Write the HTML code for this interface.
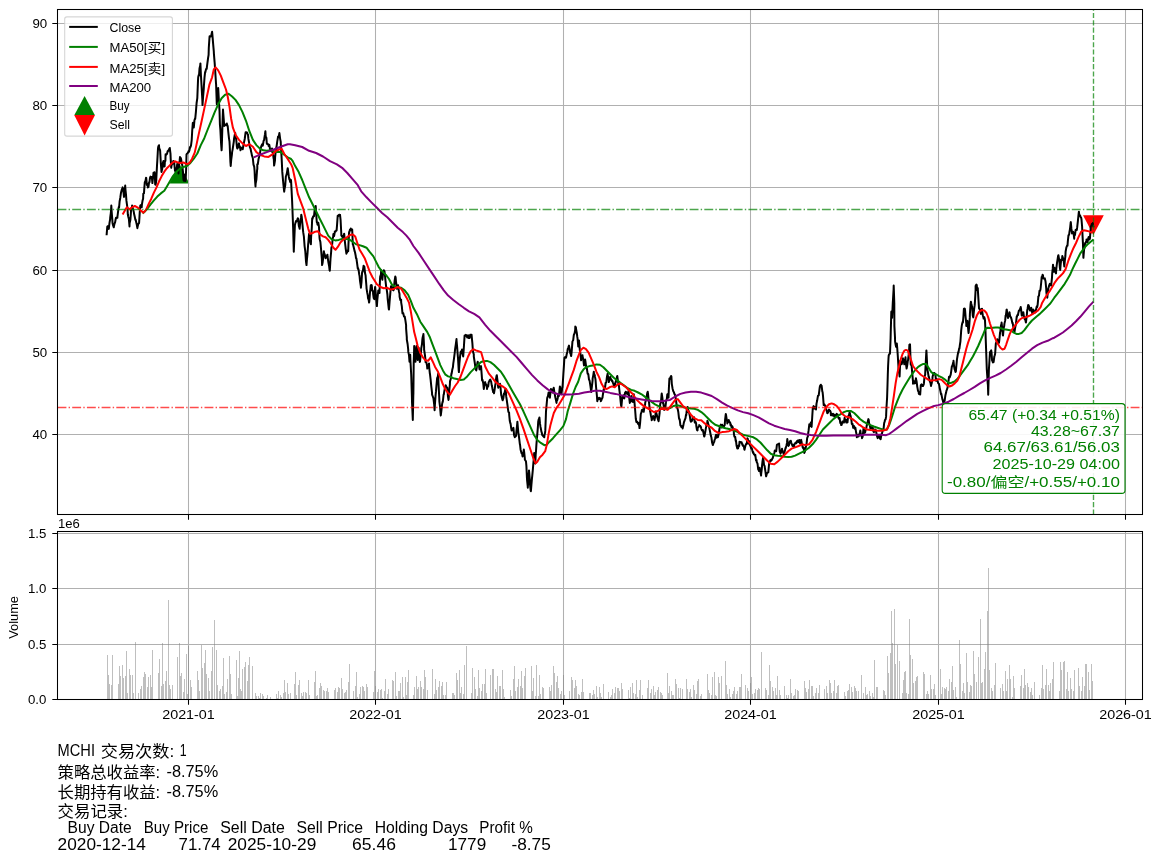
<!DOCTYPE html>
<html lang="zh"><head><meta charset="utf-8"><title>MCHI</title>
<style>html,body{margin:0;padding:0;background:#fff}body{width:1162px;height:863px;overflow:hidden}svg{will-change:transform}svg text{font-family:"Liberation Sans","Noto Sans CJK SC",sans-serif}</style></head>
<body>
<svg width="1162" height="863" viewBox="0 0 1162 863" style="display:block">
<rect width="1162" height="863" fill="#fff"/>
<g id="main">
<path d="M179.4,163.6 L169.5,183.4 L189.3,183.4 Z" fill="#008000"/>
<path d="M1093.4,235.1 L1083.0,215.3 L1103.8,215.3 Z" fill="#ff0000"/>
<path d="M188.50,9.5 V514.5 M375.50,9.5 V514.5 M563.50,9.5 V514.5 M750.50,9.5 V514.5 M938.50,9.5 V514.5 M1125.50,9.5 V514.5 M57.5,434.50 H1142.5 M57.5,352.50 H1142.5 M57.5,270.50 H1142.5 M57.5,187.50 H1142.5 M57.5,105.50 H1142.5 M57.5,23.50 H1142.5" stroke="#b0b0b0" stroke-width="1.05" fill="none"/>
<path d="M106.6,235.3 L106.6,235.1 L107.3,226.5 L107.3,228.2 L108.0,226.1 L108.7,228.2 L108.8,229.0 L109.5,222.9 L110.1,219.5 L110.2,217.7 L110.9,212.5 L111.3,205.6 L111.6,210.8 L112.4,220.8 L112.5,223.0 L113.1,225.4 L113.8,227.3 L113.9,226.5 L114.5,223.9 L115.2,221.9 L115.6,219.5 L116.0,217.8 L116.7,217.9 L117.4,217.8 L117.4,217.0 L118.1,211.4 L118.8,206.9 L119.1,207.3 L119.6,201.5 L120.3,197.7 L120.9,193.4 L121.0,192.7 L121.7,189.9 L122.4,188.0 L122.6,187.4 L123.2,189.4 L123.9,196.1 L124.0,196.9 L124.6,191.5 L125.2,185.6 L125.3,188.2 L126.0,194.7 L126.4,200.4 L126.8,203.3 L127.5,208.3 L127.8,214.3 L128.2,216.4 L128.9,219.1 L129.5,226.5 L129.6,223.4 L130.4,219.8 L130.9,212.6 L131.1,208.6 L131.8,208.7 L132.1,205.6 L132.5,207.6 L133.2,209.6 L133.9,212.6 L134.0,213.5 L134.7,216.5 L135.4,220.1 L135.6,219.5 L136.1,221.7 L136.8,224.8 L137.4,228.2 L137.6,226.7 L138.3,224.0 L139.0,223.2 L139.1,223.0 L139.7,212.9 L140.3,205.6 L140.4,207.3 L141.2,204.8 L141.7,207.3 L141.9,204.7 L142.6,200.4 L143.1,198.7 L143.3,193.8 L144.0,193.2 L144.3,188.2 L144.8,182.1 L145.5,180.8 L146.0,177.8 L146.2,177.9 L146.9,184.9 L147.6,183.8 L147.8,187.4 L148.4,187.1 L149.1,182.4 L149.5,182.1 L149.8,179.4 L150.0,177.9 L150.5,176.6 L151.2,177.9 L151.4,176.9 L152.0,178.8 L152.4,183.1 L152.7,180.3 L153.4,174.1 L153.5,172.7 L154.1,173.5 L154.5,172.3 L154.8,174.9 L155.2,184.5 L155.6,184.8 L156.3,180.3 L156.3,178.9 L157.0,165.6 L157.3,160.9 L157.7,153.7 L158.0,148.3 L158.4,146.3 L159.0,145.2 L159.2,148.3 L159.9,149.7 L160.1,150.4 L160.6,159.1 L160.8,162.9 L161.3,169.4 L161.5,172.0 L162.0,169.5 L162.2,169.2 L162.8,163.9 L162.9,162.9 L163.5,160.9 L163.9,161.6 L164.2,166.6 L164.6,166.4 L164.9,161.5 L165.4,160.9 L165.6,154.2 L166.0,155.0 L166.4,154.4 L167.0,153.9 L167.1,153.4 L167.7,151.1 L167.8,151.6 L168.5,150.3 L168.8,150.4 L169.2,149.1 L169.8,148.0 L170.0,149.8 L170.5,153.9 L170.7,158.9 L171.2,167.8 L171.4,166.3 L172.1,163.2 L172.3,162.9 L172.8,163.7 L173.3,160.9 L173.6,162.4 L174.3,162.2 L174.3,163.6 L175.0,170.9 L175.7,171.6 L175.7,172.4 L176.4,168.2 L176.8,167.8 L177.2,164.0 L177.5,163.6 L177.9,167.8 L178.5,173.4 L178.6,171.1 L179.3,162.6 L179.6,160.9 L180.0,157.1 L180.3,157.7 L180.8,158.1 L181.3,160.2 L181.5,162.8 L182.2,164.6 L182.3,165.7 L182.9,171.1 L183.4,178.9 L183.6,180.5 L184.1,180.7 L184.4,178.6 L184.8,174.8 L185.1,178.5 L185.5,181.0 L185.8,177.0 L186.2,167.8 L186.5,154.6 L186.5,154.3 L187.2,153.5 L187.6,153.2 L188.0,152.7 L188.7,151.0 L188.9,151.8 L189.4,150.5 L190.0,147.0 L190.1,147.8 L190.8,146.1 L191.0,145.6 L191.6,140.8 L191.7,140.0 L192.2,131.0 L192.3,129.5 L192.8,123.0 L193.0,122.8 L193.7,126.0 L193.8,127.5 L194.4,121.0 L194.4,120.3 L195.2,118.2 L195.2,119.0 L195.9,111.8 L196.6,103.0 L197.3,98.2 L197.3,98.3 L198.0,80.6 L198.2,77.3 L198.8,74.8 L199.0,75.6 L199.5,68.5 L200.2,65.5 L200.4,63.4 L200.9,74.8 L201.6,86.6 L202.4,101.3 L202.5,105.1 L203.1,96.6 L203.8,88.4 L203.9,86.0 L204.5,77.7 L205.1,72.1 L205.2,72.9 L206.0,69.2 L206.7,68.8 L206.9,66.9 L207.4,63.2 L208.1,57.8 L208.6,54.8 L208.8,47.8 L209.5,37.4 L209.6,36.3 L210.3,36.4 L210.7,36.5 L211.0,36.4 L211.7,33.4 L212.1,31.8 L212.4,34.9 L213.2,44.6 L213.8,51.3 L213.9,53.6 L214.6,62.1 L214.7,63.4 L215.3,72.4 L216.0,83.3 L216.1,84.3 L216.8,104.2 L216.8,103.4 L217.5,96.6 L218.2,88.6 L218.2,88.0 L218.9,101.1 L219.5,110.4 L219.6,113.5 L219.9,124.3 L220.4,130.2 L221.1,143.8 L221.6,150.3 L221.8,146.5 L222.5,123.2 L223.0,109.5 L223.2,112.6 L224.0,122.9 L224.2,126.0 L224.7,124.7 L225.4,124.7 L226.0,124.3 L226.1,125.3 L226.8,123.5 L227.6,126.3 L227.7,126.0 L228.3,132.1 L229.0,138.3 L229.5,141.6 L229.7,145.2 L230.4,161.9 L230.7,166.0 L231.2,159.8 L231.9,154.6 L232.1,152.1 L232.6,149.6 L233.3,144.8 L233.8,141.6 L234.0,139.0 L234.8,134.8 L235.2,132.9 L235.5,136.4 L236.2,139.3 L236.9,146.7 L237.3,148.6 L237.6,148.2 L238.4,144.9 L239.0,143.4 L239.1,147.0 L239.8,146.2 L240.5,150.3 L240.7,149.5 L241.2,147.8 L242.0,147.8 L242.5,148.6 L242.7,149.2 L243.4,145.8 L244.1,141.6 L244.2,141.6 L244.8,138.5 L245.6,132.3 L246.0,132.9 L246.3,132.3 L247.0,132.4 L247.7,134.1 L248.0,134.7 L248.4,138.9 L249.2,143.1 L249.4,145.1 L249.9,147.4 L250.6,148.8 L251.2,152.1 L251.3,152.1 L252.0,155.7 L252.8,158.0 L252.9,159.0 L253.5,164.7 L254.2,166.6 L254.6,170.9 L254.9,178.4 L255.5,186.5 L255.6,183.9 L256.4,179.5 L257.1,169.7 L257.3,169.1 L257.3,164.2 L257.8,164.3 L258.5,159.3 L259.0,157.3 L259.2,156.6 L260.0,153.5 L260.7,147.9 L260.7,148.6 L261.4,145.8 L262.1,144.3 L262.5,145.1 L262.8,145.7 L263.6,140.8 L264.2,139.9 L264.3,138.5 L265.0,134.2 L265.4,131.2 L265.7,136.6 L266.4,137.7 L266.8,143.4 L267.2,144.1 L267.9,143.9 L268.5,145.1 L268.6,146.0 L269.3,144.9 L270.0,149.0 L270.3,150.3 L270.8,151.0 L271.5,151.1 L272.0,148.6 L272.2,151.9 L272.9,152.8 L273.6,158.4 L273.8,159.0 L274.1,165.6 L274.4,164.0 L275.0,160.4 L275.1,157.5 L275.8,150.4 L276.4,146.8 L276.5,147.0 L277.2,141.9 L278.0,137.1 L278.1,136.4 L278.7,137.0 L279.4,133.0 L279.5,133.8 L280.1,138.6 L280.7,141.6 L280.8,144.1 L281.6,157.6 L282.3,171.9 L282.5,174.3 L283.0,180.1 L283.7,187.4 L284.2,191.7 L284.4,189.8 L285.2,185.6 L285.9,176.0 L285.9,176.1 L286.6,174.4 L287.3,170.6 L287.7,168.2 L288.0,170.2 L288.8,176.5 L289.4,179.5 L289.5,178.7 L290.2,182.0 L290.9,179.9 L291.1,181.3 L291.6,191.0 L292.1,200.8 L292.4,208.2 L293.1,226.9 L293.1,226.9 L293.8,251.8 L293.8,251.2 L294.5,235.0 L294.9,225.1 L295.2,223.8 L296.0,220.9 L296.1,221.7 L296.7,221.2 L297.4,219.4 L297.8,218.2 L298.1,218.7 L298.8,225.7 L299.6,228.6 L299.6,228.8 L300.3,221.5 L301.0,217.7 L301.3,214.7 L301.7,216.7 L302.4,223.8 L303.0,230.4 L303.2,232.2 L303.9,236.7 L304.6,246.1 L304.8,247.7 L305.3,251.4 L306.0,261.5 L306.5,265.1 L306.8,261.0 L307.5,253.7 L308.2,243.5 L308.2,244.3 L308.9,235.6 L309.1,233.8 L309.6,238.3 L310.4,242.0 L310.9,244.3 L311.1,237.3 L311.8,227.7 L312.2,218.2 L312.5,219.0 L313.2,216.2 L313.5,216.5 L314.0,216.1 L314.7,209.3 L315.4,207.4 L315.7,206.0 L316.1,212.8 L316.8,222.3 L316.9,221.7 L317.6,224.7 L318.3,222.8 L318.7,225.1 L319.0,227.3 L319.5,237.3 L319.7,239.2 L320.4,242.1 L320.9,247.7 L321.2,250.9 L321.9,259.6 L322.1,265.1 L322.6,262.9 L323.3,256.8 L323.9,251.2 L324.0,252.6 L324.8,254.7 L325.5,257.7 L325.6,258.2 L326.2,256.6 L326.9,256.1 L327.4,254.7 L327.6,257.0 L328.4,262.3 L329.1,266.0 L329.6,270.3 L329.8,270.6 L330.5,258.9 L331.2,251.1 L331.4,247.7 L332.0,245.9 L332.7,238.5 L333.1,237.3 L333.4,234.0 L334.1,236.0 L334.8,232.1 L334.8,231.5 L335.6,231.5 L336.3,230.3 L336.6,230.4 L337.0,225.6 L337.7,215.7 L337.8,216.5 L338.4,215.8 L339.2,214.7 L339.9,214.8 L340.0,214.7 L340.6,220.2 L341.3,233.8 L341.3,235.2 L342.0,236.6 L342.8,235.9 L343.0,239.0 L343.5,235.9 L344.2,233.9 L344.2,233.8 L344.9,241.8 L345.6,247.7 L345.6,248.0 L346.4,253.7 L346.5,252.9 L347.1,252.4 L347.8,250.4 L348.2,251.2 L348.5,243.4 L349.1,232.1 L349.2,232.8 L350.0,229.5 L350.7,230.1 L350.8,228.6 L351.4,230.3 L352.1,230.3 L352.2,229.5 L352.8,244.4 L352.9,244.3 L353.6,246.7 L354.3,249.8 L354.6,251.2 L355.0,252.2 L355.7,255.8 L356.0,258.2 L356.4,258.4 L357.2,264.2 L357.8,268.6 L357.9,267.8 L358.6,269.9 L359.3,275.0 L359.5,275.5 L360.0,280.9 L360.8,286.0 L360.9,287.7 L361.5,282.0 L362.1,272.0 L362.2,272.8 L362.9,270.6 L363.6,265.7 L363.8,266.0 L364.4,266.9 L365.1,273.6 L365.6,275.5 L365.8,278.5 L366.5,287.0 L366.5,288.2 L367.2,292.5 L367.8,295.6 L368.0,298.2 L368.7,300.0 L369.1,302.6 L369.4,300.5 L370.1,290.9 L370.3,290.4 L370.8,285.2 L371.6,285.1 L371.7,285.2 L372.3,290.9 L373.0,291.0 L373.1,293.9 L373.7,298.0 L374.3,299.1 L374.4,296.0 L375.1,287.0 L375.2,287.1 L375.9,295.4 L376.6,303.2 L376.9,306.1 L377.3,300.0 L378.0,293.5 L378.3,290.4 L378.8,291.7 L379.5,293.0 L379.5,292.2 L380.0,279.0 L380.2,276.5 L380.9,274.5 L381.2,270.3 L381.6,276.2 L382.4,279.8 L382.4,279.0 L383.1,272.9 L383.8,270.3 L383.8,270.6 L384.5,271.3 L385.2,277.3 L385.2,278.2 L386.0,285.3 L386.4,288.7 L386.7,289.4 L387.4,294.5 L387.7,299.1 L388.1,302.7 L388.8,309.1 L389.0,309.5 L389.6,301.4 L390.3,293.3 L390.4,292.2 L391.0,286.2 L391.6,287.0 L391.7,286.2 L392.4,288.8 L393.2,290.2 L393.4,290.4 L393.9,289.3 L394.3,284.2 L394.6,281.0 L395.3,276.5 L395.6,277.3 L396.0,281.8 L396.8,286.7 L396.9,288.7 L397.5,287.4 L398.1,285.2 L398.2,286.8 L398.9,291.2 L399.5,293.9 L399.6,296.7 L400.4,300.2 L401.1,299.7 L401.2,302.6 L401.8,306.1 L402.5,313.3 L402.9,313.0 L403.2,313.0 L404.0,316.4 L404.7,316.5 L404.7,316.4 L405.4,320.4 L406.1,325.2 L406.1,328.3 L406.8,337.3 L406.8,339.5 L407.6,344.0 L408.2,349.5 L408.3,351.9 L409.0,355.1 L409.5,361.7 L409.7,358.9 L410.2,354.7 L410.4,360.3 L411.2,374.7 L411.3,377.3 L411.9,396.7 L412.0,401.6 L412.6,415.3 L412.8,419.9 L413.3,395.9 L413.4,392.9 L413.7,363.4 L414.0,354.4 L414.2,346.0 L414.8,354.1 L415.5,361.7 L415.5,360.9 L416.2,349.8 L416.5,346.0 L416.9,350.7 L417.6,358.8 L417.7,359.9 L418.4,352.9 L418.6,347.8 L419.1,355.0 L419.8,361.9 L420.0,361.7 L420.5,356.7 L421.2,349.5 L421.2,348.7 L422.0,344.1 L422.4,339.1 L422.7,337.2 L423.4,334.4 L423.4,333.9 L424.1,346.7 L424.1,349.5 L424.8,354.2 L425.5,359.9 L425.6,362.1 L426.3,362.2 L427.0,365.2 L427.3,368.6 L427.7,367.0 L428.4,367.4 L429.0,363.4 L429.2,367.3 L429.9,373.8 L429.9,373.4 L430.6,379.4 L431.1,384.3 L431.3,386.4 L432.0,392.4 L432.1,394.7 L432.8,396.5 L433.4,398.2 L433.5,399.0 L434.2,404.6 L434.6,410.3 L434.9,404.7 L435.6,395.2 L436.0,391.2 L436.4,386.0 L437.1,378.4 L437.4,377.3 L437.8,376.8 L438.2,373.8 L438.5,383.4 L439.2,396.8 L439.4,401.6 L440.0,406.3 L440.7,414.8 L440.8,415.5 L441.4,410.6 L442.1,404.1 L442.6,401.6 L442.8,402.0 L443.6,394.5 L443.8,394.7 L444.3,391.1 L445.0,387.6 L445.5,386.0 L445.7,385.2 L446.4,386.6 L447.2,388.4 L447.3,387.7 L447.9,396.0 L448.5,399.9 L448.6,399.3 L449.3,390.4 L449.9,384.3 L450.0,381.4 L450.8,378.8 L451.5,373.2 L451.6,373.8 L452.2,370.1 L452.9,367.3 L453.3,363.4 L453.6,361.4 L454.4,355.4 L454.7,353.0 L455.1,349.1 L455.8,344.3 L456.5,339.1 L456.5,340.0 L457.2,347.8 L457.7,354.7 L458.0,358.0 L458.7,370.3 L458.9,372.1 L459.4,363.4 L460.1,356.1 L460.3,354.7 L460.8,351.4 L461.6,353.1 L462.0,349.5 L462.3,351.8 L463.0,355.8 L463.2,356.5 L463.7,349.8 L464.4,338.8 L464.6,335.6 L465.2,336.0 L465.9,334.8 L466.4,335.6 L466.6,336.2 L467.3,337.4 L468.0,335.3 L468.1,337.3 L468.8,338.1 L469.5,338.1 L469.8,337.3 L470.2,334.7 L470.9,335.1 L471.6,334.7 L471.6,335.1 L472.4,343.5 L472.8,349.5 L473.1,352.0 L473.8,354.4 L473.8,356.5 L474.5,361.0 L475.1,365.1 L475.2,366.3 L476.0,370.0 L476.3,370.4 L476.7,367.9 L477.4,363.0 L477.7,361.7 L478.1,364.5 L478.8,363.6 L479.4,368.6 L479.6,369.4 L480.3,367.3 L481.0,366.1 L481.1,366.9 L481.7,374.6 L482.1,380.4 L482.4,379.6 L483.2,382.9 L483.8,389.0 L483.9,388.3 L484.6,384.1 L485.2,382.1 L485.3,383.6 L486.0,384.2 L486.8,386.5 L487.0,389.0 L487.5,385.6 L488.2,386.4 L488.7,382.1 L488.9,381.9 L489.6,380.3 L490.4,379.6 L490.4,380.4 L491.1,381.4 L491.8,385.6 L492.2,387.3 L492.5,389.0 L493.2,392.2 L493.9,392.5 L494.0,393.3 L494.7,389.0 L495.4,384.1 L495.6,383.8 L496.1,378.3 L496.5,376.0 L496.8,375.2 L497.6,381.4 L498.2,387.3 L498.3,387.8 L499.0,385.3 L499.7,384.9 L500.0,383.8 L500.4,385.9 L501.2,395.1 L501.2,394.3 L501.9,397.7 L502.6,400.3 L502.6,400.3 L503.3,398.3 L504.0,393.5 L504.3,394.3 L504.8,391.8 L505.5,388.7 L505.7,389.0 L506.2,396.4 L506.9,400.8 L506.9,401.2 L507.6,405.9 L507.8,407.8 L508.4,411.8 L509.1,412.7 L509.2,414.8 L509.8,421.1 L510.4,423.4 L510.5,423.1 L511.2,428.1 L511.6,430.4 L512.0,428.7 L512.7,430.2 L513.0,428.7 L513.4,427.9 L514.1,435.2 L514.8,437.3 L514.8,436.1 L515.6,436.4 L516.1,435.6 L516.3,432.4 L517.0,426.1 L517.4,421.7 L517.7,425.6 L518.4,433.4 L518.6,433.9 L519.2,438.7 L519.9,444.5 L520.0,444.3 L520.6,449.7 L521.3,452.2 L521.4,453.0 L522.0,453.3 L522.6,456.5 L522.8,453.6 L523.5,452.2 L523.8,449.5 L524.2,452.4 L524.8,458.2 L524.9,459.9 L525.6,460.6 L526.0,461.7 L526.4,465.9 L526.9,477.3 L527.1,480.4 L527.8,486.9 L527.8,487.7 L528.5,476.6 L529.0,470.4 L529.2,472.3 L530.0,482.0 L530.0,484.3 L530.7,490.6 L530.9,491.2 L531.4,484.8 L532.1,476.8 L532.1,477.3 L532.8,470.2 L533.5,461.7 L533.6,461.1 L534.2,453.0 L534.3,453.8 L535.0,460.1 L535.3,463.4 L535.7,454.3 L536.0,451.2 L536.4,444.9 L537.0,437.3 L537.2,435.4 L537.9,426.7 L538.2,421.7 L538.6,419.6 L539.3,418.2 L539.4,417.4 L540.0,423.7 L540.5,426.9 L540.8,428.3 L541.5,432.1 L541.7,432.1 L542.2,435.0 L542.9,435.6 L542.9,435.9 L543.6,436.6 L544.3,437.3 L544.4,435.5 L545.1,432.5 L545.3,430.4 L545.8,417.4 L546.0,411.3 L546.5,405.9 L547.2,398.0 L547.4,397.4 L548.0,396.0 L548.6,392.5 L548.7,396.3 L549.4,396.4 L549.9,397.7 L550.1,395.6 L550.8,390.1 L550.9,389.0 L551.6,389.6 L552.3,392.0 L552.6,392.5 L553.0,390.3 L553.7,387.7 L553.8,388.2 L554.4,392.3 L555.1,396.0 L555.2,396.8 L555.9,399.9 L556.5,402.9 L556.6,401.3 L557.3,400.1 L557.8,397.7 L558.0,395.6 L558.8,396.2 L559.1,394.3 L559.5,390.0 L559.9,386.4 L560.2,388.0 L560.9,393.1 L561.3,394.3 L561.6,393.2 L562.4,386.5 L562.5,387.3 L563.1,378.2 L563.4,373.4 L563.8,367.6 L564.3,359.5 L564.5,357.7 L565.2,357.0 L566.0,357.7 L566.0,357.8 L566.7,354.3 L567.4,351.4 L567.7,349.1 L568.1,348.1 L568.8,346.1 L569.0,345.6 L569.6,348.9 L570.3,353.4 L570.4,352.6 L571.0,355.8 L571.2,356.0 L571.7,351.1 L572.4,342.1 L572.4,341.6 L573.2,340.1 L573.8,335.2 L573.9,334.7 L574.6,333.3 L575.2,330.0 L575.3,326.6 L575.9,327.4 L576.0,328.6 L576.8,333.0 L577.3,336.9 L577.5,338.0 L578.2,345.6 L578.2,346.4 L578.9,341.7 L579.0,340.4 L579.6,347.4 L579.9,350.8 L580.4,353.3 L581.1,360.3 L581.1,359.5 L581.8,358.4 L582.5,355.2 L582.5,356.1 L583.2,359.1 L583.9,364.7 L584.0,365.5 L584.7,362.2 L585.1,359.5 L585.4,361.1 L586.1,366.5 L586.3,368.2 L586.8,367.8 L587.6,373.7 L587.7,373.4 L588.3,374.1 L589.0,379.7 L589.5,380.4 L589.7,381.4 L590.4,385.8 L591.2,391.9 L591.2,391.7 L591.9,386.5 L592.6,380.4 L592.6,378.7 L593.3,375.1 L593.8,371.7 L594.0,373.5 L594.8,375.4 L595.0,376.9 L595.5,379.5 L596.1,387.3 L596.2,388.5 L596.9,395.7 L597.3,401.2 L597.6,399.7 L598.4,399.1 L599.0,397.7 L599.1,397.8 L599.8,399.0 L600.5,398.4 L600.8,401.2 L601.2,400.7 L602.0,398.5 L602.5,397.7 L602.7,395.9 L603.4,391.5 L603.7,389.0 L604.1,389.8 L604.8,386.5 L605.1,387.3 L605.6,382.8 L606.3,382.5 L606.5,380.4 L607.0,376.4 L607.7,373.4 L607.7,375.3 L608.4,377.2 L608.9,382.1 L609.2,380.5 L609.9,379.7 L610.3,376.9 L610.6,378.7 L611.3,379.5 L612.0,381.0 L612.1,380.4 L612.8,382.3 L613.5,384.0 L613.8,385.6 L614.2,384.5 L614.9,385.1 L615.5,382.1 L615.6,382.7 L616.4,379.2 L617.1,377.1 L617.3,376.0 L617.8,380.2 L618.5,384.6 L618.7,383.8 L619.2,388.6 L619.9,394.3 L620.0,394.9 L620.7,402.2 L621.1,405.6 L621.4,406.4 L622.1,398.8 L622.5,396.0 L622.8,398.1 L623.6,395.2 L624.2,397.7 L624.3,398.5 L625.0,392.8 L625.6,392.5 L625.7,391.7 L626.4,392.5 L627.2,393.9 L627.4,394.3 L627.9,393.0 L628.6,390.8 L628.6,391.7 L629.3,398.7 L629.8,402.9 L630.0,401.0 L630.8,401.7 L631.2,396.0 L631.5,397.7 L632.2,400.8 L632.6,401.2 L632.9,402.0 L633.6,396.4 L633.8,394.3 L634.4,401.7 L635.0,408.2 L635.1,409.5 L635.8,418.8 L636.4,422.1 L636.5,421.3 L637.2,421.6 L638.0,423.8 L638.1,423.8 L638.7,423.0 L639.4,426.7 L639.5,428.1 L640.1,423.2 L640.7,415.1 L640.8,414.0 L641.6,411.8 L641.9,409.9 L642.3,411.2 L643.0,409.3 L643.7,411.6 L643.7,411.8 L644.4,407.0 L645.1,404.7 L645.2,402.7 L645.9,400.3 L646.5,397.7 L646.6,397.0 L647.3,392.9 L647.7,391.7 L648.0,393.6 L648.8,401.5 L648.9,401.2 L649.5,407.2 L650.2,411.8 L650.3,411.6 L650.9,415.5 L651.6,418.6 L651.7,420.3 L652.4,417.8 L653.1,416.0 L653.4,416.8 L653.8,418.0 L654.5,420.3 L654.6,419.5 L655.2,416.8 L655.8,411.6 L656.0,412.0 L656.7,414.2 L657.2,416.8 L657.4,417.6 L658.1,419.8 L658.6,421.2 L658.8,419.7 L659.6,413.2 L659.8,408.2 L660.3,403.7 L661.0,401.8 L661.6,394.3 L661.7,393.5 L662.4,397.9 L662.8,402.9 L663.2,402.7 L663.9,407.0 L664.2,409.9 L664.6,407.9 L665.3,408.2 L665.9,402.9 L666.0,401.2 L666.8,399.2 L667.3,394.3 L667.5,394.2 L668.2,397.0 L668.5,397.7 L668.9,387.7 L669.4,378.6 L669.6,379.4 L670.4,377.5 L671.1,376.0 L671.4,376.5 L671.8,383.8 L672.5,388.1 L672.6,388.7 L673.2,391.1 L674.0,392.5 L674.3,393.9 L674.7,394.1 L675.4,396.1 L676.1,400.8 L676.1,400.8 L676.8,406.9 L677.6,408.8 L677.8,409.5 L678.3,412.0 L679.0,418.1 L679.6,419.9 L679.7,419.3 L680.4,425.4 L681.2,426.3 L681.3,426.9 L681.9,426.1 L682.5,427.7 L682.6,428.4 L683.3,425.6 L684.0,421.9 L684.2,421.7 L684.8,419.9 L685.5,418.1 L686.0,414.7 L686.2,415.5 L686.9,408.9 L687.4,407.8 L687.6,407.0 L688.4,412.0 L688.8,411.2 L689.1,412.5 L689.8,415.8 L690.5,420.6 L690.9,421.7 L691.2,420.3 L692.0,420.9 L692.6,418.2 L692.7,417.4 L693.4,418.3 L694.1,417.4 L694.3,419.1 L694.8,422.5 L695.6,421.8 L696.1,423.4 L696.3,426.0 L697.0,430.0 L697.5,430.4 L697.7,427.9 L698.4,427.1 L699.2,426.2 L699.2,425.1 L699.9,425.9 L700.6,426.4 L700.9,426.9 L701.3,428.8 L702.0,430.4 L702.7,430.4 L702.8,429.9 L703.5,433.0 L704.2,436.6 L704.4,436.4 L704.9,433.9 L705.6,429.8 L706.1,426.9 L706.4,424.2 L707.1,424.6 L707.4,420.8 L707.8,422.0 L708.5,425.2 L709.1,426.9 L709.2,427.6 L710.0,431.3 L710.7,435.0 L710.8,435.6 L711.4,437.3 L712.1,442.5 L712.6,444.3 L712.8,445.1 L713.6,442.8 L714.3,441.8 L714.3,440.8 L715.0,439.0 L715.7,435.9 L716.0,434.7 L716.4,437.8 L717.2,435.4 L717.8,437.3 L717.9,437.3 L718.6,434.6 L719.3,430.0 L719.5,428.6 L720.0,426.1 L720.8,424.6 L721.3,425.1 L721.5,427.5 L722.2,424.8 L722.9,426.8 L723.0,426.9 L723.6,427.0 L724.4,425.6 L724.7,425.1 L725.1,419.7 L725.8,413.9 L726.0,414.7 L726.5,418.1 L727.2,421.7 L727.3,423.4 L728.0,421.5 L728.7,420.2 L728.7,419.9 L729.4,422.2 L730.1,422.2 L730.5,425.1 L730.8,424.3 L731.6,427.5 L732.2,426.9 L732.3,426.3 L733.0,428.4 L733.7,430.2 L733.9,433.8 L734.4,436.6 L735.2,437.0 L735.7,440.8 L735.9,440.2 L736.6,445.8 L737.3,448.6 L737.4,448.6 L738.0,448.4 L738.8,445.2 L739.2,446.0 L739.5,441.7 L740.2,442.5 L740.9,442.5 L740.9,442.1 L741.6,442.3 L742.4,445.1 L742.6,444.3 L743.1,446.1 L743.8,446.3 L744.4,449.5 L744.5,449.8 L745.2,446.6 L746.0,444.0 L746.1,444.3 L746.7,444.1 L747.4,438.2 L747.8,439.0 L748.1,441.3 L748.8,443.6 L749.6,441.3 L749.6,444.3 L750.3,445.7 L751.0,447.6 L751.3,448.6 L751.7,448.0 L752.4,450.6 L753.1,452.9 L753.2,452.1 L753.9,454.3 L754.6,454.5 L754.8,455.6 L755.3,454.8 L756.0,460.3 L756.5,459.9 L756.8,462.3 L757.5,463.5 L758.2,469.4 L758.3,468.6 L758.9,471.1 L759.6,467.8 L760.0,470.3 L760.4,471.5 L761.1,475.5 L761.1,474.5 L761.8,468.8 L762.1,465.1 L762.5,461.3 L763.0,458.2 L763.2,457.6 L764.0,464.9 L764.7,466.3 L764.7,466.8 L765.4,471.4 L766.1,476.3 L766.4,475.5 L766.8,473.7 L767.6,472.7 L768.2,472.1 L768.3,472.4 L769.0,464.8 L769.4,461.6 L769.7,461.9 L770.4,460.3 L770.8,459.9 L771.2,460.7 L771.9,459.7 L772.5,458.2 L772.6,458.4 L773.3,455.9 L774.0,454.1 L774.3,452.9 L774.8,450.4 L775.5,451.3 L776.0,451.2 L776.2,451.2 L776.9,444.9 L777.4,444.3 L777.6,444.3 L778.4,444.1 L779.1,443.5 L779.1,444.3 L779.8,452.0 L780.5,452.9 L780.5,453.7 L781.2,451.8 L782.0,448.7 L782.1,449.5 L782.7,451.4 L783.4,453.0 L783.8,454.7 L784.1,453.3 L784.8,450.9 L785.6,447.7 L785.6,448.5 L786.3,446.0 L787.0,442.9 L787.3,439.0 L787.7,442.5 L788.4,445.9 L789.0,445.1 L789.2,443.9 L789.9,441.2 L790.6,441.5 L790.8,440.8 L791.3,442.8 L792.0,444.7 L792.5,446.0 L792.8,444.9 L793.5,446.0 L794.2,446.7 L794.2,444.3 L794.9,443.9 L795.6,442.5 L796.0,442.5 L796.4,443.3 L797.1,441.0 L797.7,440.8 L797.8,440.4 L798.5,442.0 L799.2,440.0 L799.5,442.5 L800.0,443.3 L800.7,440.5 L801.2,439.9 L801.4,441.6 L802.1,444.6 L802.8,447.9 L802.9,447.7 L803.6,447.5 L804.3,452.9 L804.7,452.1 L805.0,451.4 L805.7,447.7 L806.4,444.3 L806.4,445.1 L807.2,437.9 L807.9,436.4 L808.1,433.8 L808.6,430.4 L809.3,424.3 L809.4,425.1 L810.0,425.9 L810.7,423.4 L810.8,422.6 L811.5,426.6 L811.6,426.9 L812.2,417.5 L812.8,407.8 L812.9,408.0 L813.6,406.1 L814.4,408.6 L814.6,406.9 L815.1,408.2 L815.8,407.4 L816.0,409.5 L816.5,403.6 L817.2,400.3 L817.4,399.1 L818.0,395.7 L818.6,395.6 L818.7,395.4 L819.4,390.1 L819.8,386.9 L820.1,385.8 L820.8,384.7 L821.2,385.5 L821.6,385.6 L822.3,391.3 L822.6,392.1 L823.0,395.8 L823.7,405.1 L823.8,404.3 L824.4,404.3 L825.2,406.2 L825.5,406.0 L825.9,408.5 L826.6,410.5 L827.3,413.0 L827.3,413.3 L828.0,412.8 L828.8,409.8 L829.0,409.5 L829.5,410.7 L830.2,410.8 L830.7,412.1 L830.9,415.2 L831.6,413.7 L832.4,415.5 L832.5,414.7 L833.1,413.9 L833.8,415.4 L834.2,416.5 L834.5,414.8 L835.2,416.0 L835.9,415.6 L836.0,415.0 L836.7,413.9 L837.4,414.5 L837.7,414.7 L838.1,416.8 L838.8,418.6 L839.4,418.2 L839.6,418.0 L840.3,423.1 L841.0,423.7 L841.2,425.1 L841.7,424.9 L842.4,421.4 L842.9,421.7 L843.2,422.5 L843.9,422.5 L844.6,417.8 L844.6,418.2 L845.3,421.6 L846.0,419.7 L846.4,422.5 L846.8,420.3 L847.5,422.4 L848.1,416.5 L848.2,416.2 L848.9,415.5 L849.6,412.2 L849.8,413.0 L850.4,415.6 L851.1,418.1 L851.6,421.7 L851.8,424.0 L852.5,423.8 L853.2,427.7 L853.3,426.9 L854.0,426.1 L854.7,428.7 L855.1,428.6 L855.4,427.8 L856.1,432.3 L856.8,435.6 L856.8,437.2 L857.6,435.8 L858.3,434.8 L858.5,436.4 L859.0,435.5 L859.7,433.6 L860.3,430.4 L860.4,431.8 L861.2,435.8 L861.9,435.6 L862.0,438.2 L862.6,436.8 L863.3,430.6 L863.5,428.6 L864.0,427.8 L864.8,432.9 L865.2,432.1 L865.5,430.3 L866.2,428.8 L866.9,424.3 L867.0,425.1 L867.6,422.2 L868.4,419.1 L868.7,419.9 L869.1,423.1 L869.8,425.2 L870.4,428.6 L870.5,427.2 L871.2,427.2 L872.0,428.6 L872.2,426.8 L872.7,427.3 L873.4,431.4 L873.9,432.1 L874.1,430.2 L874.8,429.5 L875.6,429.7 L875.6,430.3 L876.3,432.5 L877.0,436.0 L877.4,437.3 L877.7,438.1 L878.4,435.6 L879.1,435.5 L879.2,435.2 L879.9,438.5 L880.5,439.0 L880.6,439.2 L881.3,435.4 L881.7,433.8 L882.0,433.5 L882.8,429.5 L883.5,430.3 L883.5,429.4 L884.2,422.8 L884.7,421.6 L884.9,420.2 L885.6,419.3 L886.1,416.4 L886.4,408.7 L886.9,400.8 L887.1,397.6 L887.5,385.1 L887.8,374.8 L888.1,366.0 L888.5,358.3 L888.7,355.6 L889.2,354.1 L889.9,353.9 L890.0,353.2 L890.6,338.2 L890.7,333.5 L891.3,312.2 L891.4,311.4 L892.1,317.7 L892.1,317.4 L892.8,302.6 L893.0,299.5 L893.6,289.2 L893.7,285.6 L894.3,303.3 L894.3,303.0 L894.4,326.1 L895.0,337.8 L895.1,341.7 L895.7,345.1 L896.1,346.9 L896.4,345.6 L896.8,343.4 L897.2,347.7 L897.9,357.3 L897.9,357.5 L898.6,369.5 L898.6,370.1 L899.3,373.7 L899.6,376.5 L900.0,366.7 L900.3,360.8 L900.8,363.3 L901.5,362.3 L901.7,364.3 L902.2,362.3 L902.9,358.3 L903.1,359.1 L903.6,359.9 L904.3,364.3 L904.4,363.4 L905.1,360.1 L905.5,357.3 L905.8,362.5 L906.5,367.9 L906.6,368.6 L907.2,365.6 L907.8,360.8 L908.0,360.3 L908.7,354.5 L909.0,352.1 L909.4,344.8 L910.0,344.3 L910.1,346.8 L910.7,364.3 L910.8,364.7 L911.6,365.6 L911.8,367.8 L912.3,373.7 L913.0,381.7 L913.0,383.7 L913.7,380.9 L914.4,382.4 L914.7,383.4 L915.2,383.1 L915.9,378.3 L916.0,379.1 L916.6,381.3 L917.3,387.2 L917.3,386.9 L918.0,390.8 L918.7,392.1 L918.8,393.8 L919.5,394.2 L919.9,393.8 L920.2,394.5 L920.8,385.1 L920.9,385.7 L921.6,384.3 L922.4,385.6 L922.6,386.0 L923.1,385.9 L923.8,384.2 L923.9,383.4 L924.5,376.6 L925.2,374.7 L925.2,373.6 L926.0,357.6 L926.4,350.4 L926.7,355.7 L927.4,370.3 L927.4,369.5 L928.1,373.3 L928.6,376.5 L928.8,376.4 L929.6,380.3 L929.9,381.7 L930.3,381.8 L931.0,385.9 L931.2,385.1 L931.7,383.3 L932.4,378.9 L932.6,376.5 L933.2,374.4 L933.9,373.1 L934.4,373.0 L934.6,374.3 L935.3,373.7 L936.0,380.7 L936.1,379.9 L936.8,379.1 L937.5,381.4 L937.8,381.7 L938.2,383.2 L938.9,383.8 L939.6,386.9 L939.6,387.6 L940.4,391.0 L941.1,394.6 L941.3,393.8 L941.8,396.4 L942.5,399.8 L942.5,399.0 L943.2,402.2 L943.8,403.4 L944.0,402.2 L944.7,400.5 L945.1,397.3 L945.4,395.3 L946.1,392.6 L946.5,390.4 L946.8,389.9 L947.6,387.5 L947.7,385.1 L948.3,382.9 L949.0,376.8 L949.5,376.5 L949.7,377.3 L950.4,375.3 L950.7,374.7 L951.2,371.4 L951.9,366.2 L952.1,366.0 L952.6,364.9 L953.3,361.9 L953.5,360.8 L954.0,365.8 L954.7,369.5 L954.8,369.4 L955.5,372.0 L955.9,371.2 L956.2,367.5 L956.9,360.1 L957.0,359.1 L957.6,355.5 L958.2,352.1 L958.4,352.9 L959.1,348.6 L959.4,348.7 L959.8,345.5 L960.4,341.7 L960.5,340.3 L961.2,330.4 L961.7,326.1 L962.0,324.3 L962.7,321.8 L962.9,322.6 L963.4,316.5 L963.9,308.7 L964.1,311.1 L964.8,308.6 L965.1,310.4 L965.6,317.1 L966.3,323.7 L966.3,326.1 L967.0,321.6 L967.4,320.9 L967.7,323.8 L968.4,331.6 L968.6,333.0 L969.2,326.4 L969.8,317.4 L969.9,313.7 L970.6,303.8 L970.9,301.7 L971.3,303.8 L972.0,306.5 L972.1,307.0 L972.8,315.8 L973.3,317.4 L973.5,315.3 L974.2,308.5 L974.7,305.2 L974.9,302.7 L975.6,289.9 L975.6,285.9 L976.4,284.5 L976.8,285.3 L977.1,289.9 L977.8,288.2 L977.8,289.1 L978.5,300.4 L979.0,308.2 L979.2,308.6 L980.0,310.0 L980.7,313.4 L980.8,313.9 L981.4,309.3 L982.0,308.7 L982.1,310.9 L982.8,315.2 L983.4,317.4 L983.6,318.6 L984.3,317.2 L984.8,319.1 L985.0,320.6 L985.5,331.3 L985.7,338.6 L986.2,352.1 L986.4,357.9 L986.8,369.5 L987.2,375.1 L987.7,383.4 L987.9,384.8 L988.2,394.7 L988.6,380.1 L988.9,369.5 L989.3,363.2 L990.0,352.1 L990.0,352.6 L990.8,351.1 L991.2,350.4 L991.5,352.1 L992.1,360.8 L992.2,360.0 L992.9,362.5 L993.4,361.7 L993.6,362.0 L994.4,356.0 L994.7,355.6 L995.1,354.1 L995.8,344.0 L995.9,343.4 L996.5,341.8 L997.2,339.2 L997.3,340.0 L998.0,343.1 L998.7,342.2 L999.0,342.6 L999.4,339.3 L1000.1,332.2 L1000.4,331.3 L1000.8,326.3 L1001.6,323.2 L1001.6,322.6 L1002.3,329.3 L1002.8,334.8 L1003.0,335.6 L1003.7,327.9 L1004.2,326.1 L1004.4,323.9 L1005.2,320.4 L1005.6,315.6 L1005.9,315.4 L1006.6,309.7 L1006.8,309.6 L1007.3,314.8 L1008.0,318.0 L1008.0,317.4 L1008.8,315.9 L1009.4,312.2 L1009.5,312.8 L1010.2,316.4 L1010.8,317.4 L1010.9,317.1 L1011.6,319.5 L1012.4,323.4 L1012.6,322.6 L1013.1,325.7 L1013.8,329.3 L1014.3,331.3 L1014.5,331.9 L1015.2,327.6 L1015.5,326.1 L1016.0,323.4 L1016.7,316.6 L1016.7,317.4 L1017.4,315.0 L1018.1,315.0 L1018.1,313.9 L1018.8,310.9 L1019.5,310.4 L1019.6,309.9 L1020.3,308.5 L1020.7,307.0 L1021.0,308.7 L1021.7,315.2 L1021.9,315.6 L1022.4,315.0 L1023.2,312.3 L1023.3,312.2 L1023.9,316.4 L1024.6,318.0 L1024.7,319.1 L1025.3,319.8 L1025.9,322.6 L1026.0,322.0 L1026.8,315.3 L1027.2,310.4 L1027.5,309.0 L1028.2,305.0 L1028.5,305.2 L1028.9,305.9 L1029.6,309.6 L1029.9,310.4 L1030.4,310.5 L1031.1,310.4 L1031.2,307.8 L1031.8,310.8 L1032.4,313.9 L1032.5,313.2 L1033.2,309.6 L1033.8,310.4 L1034.0,312.4 L1034.7,312.6 L1035.4,312.1 L1035.5,312.2 L1036.1,309.3 L1036.8,306.2 L1037.2,307.0 L1037.6,305.1 L1038.3,297.7 L1038.3,296.6 L1039.0,295.7 L1039.5,290.8 L1039.7,291.2 L1040.4,289.8 L1040.7,287.3 L1041.2,282.5 L1041.7,276.9 L1041.9,277.7 L1042.6,274.7 L1043.0,275.5 L1043.3,278.5 L1044.0,278.2 L1044.2,278.6 L1044.8,278.4 L1045.5,281.3 L1045.6,282.1 L1046.2,288.3 L1046.4,292.5 L1046.9,295.8 L1047.3,297.7 L1047.6,294.2 L1048.4,288.0 L1048.7,287.3 L1049.1,285.7 L1049.8,283.8 L1049.9,283.8 L1050.5,285.0 L1051.1,285.6 L1051.2,285.2 L1052.0,277.6 L1052.2,273.4 L1052.7,268.9 L1053.0,264.7 L1053.4,269.9 L1053.9,271.7 L1054.1,267.5 L1054.8,268.5 L1055.0,268.2 L1055.6,272.5 L1056.0,273.4 L1056.3,268.7 L1057.0,263.0 L1057.0,263.0 L1057.7,258.7 L1058.1,256.0 L1058.4,255.2 L1059.1,259.5 L1059.2,259.1 L1059.9,267.9 L1060.2,269.9 L1060.6,265.1 L1061.2,259.5 L1061.3,260.3 L1062.0,260.0 L1062.3,256.0 L1062.8,257.6 L1063.3,259.5 L1063.5,259.2 L1064.2,265.5 L1064.3,266.5 L1064.9,259.8 L1065.4,256.0 L1065.6,251.8 L1066.4,247.3 L1066.4,247.3 L1067.1,245.6 L1067.5,245.6 L1067.8,241.7 L1068.5,235.2 L1068.5,236.0 L1069.2,234.2 L1069.5,231.7 L1070.0,229.0 L1070.7,222.3 L1070.8,222.1 L1071.4,228.7 L1072.0,233.4 L1072.1,233.2 L1072.8,232.3 L1073.0,231.7 L1073.6,233.4 L1074.2,238.7 L1074.3,234.1 L1075.0,235.0 L1075.5,230.8 L1075.7,229.8 L1076.4,229.5 L1076.8,230.0 L1077.2,227.2 L1077.9,220.8 L1078.2,217.8 L1078.6,214.2 L1078.9,211.7 L1079.3,215.2 L1080.0,215.2 L1080.0,215.5 L1080.8,217.2 L1081.2,217.8 L1081.5,219.5 L1082.1,226.5 L1082.2,228.9 L1082.9,242.7 L1082.9,242.1 L1083.4,257.8 L1083.6,255.2 L1084.1,249.1 L1084.4,248.4 L1085.1,243.1 L1085.2,243.9 L1085.8,242.6 L1086.4,240.4 L1086.5,239.6 L1087.2,241.0 L1087.6,242.1 L1088.0,239.3 L1088.7,236.9 L1088.7,237.2 L1089.4,239.5 L1089.9,238.7 L1090.1,236.1 L1090.7,228.2 L1090.8,226.6 L1091.6,225.0 L1091.8,223.9 L1092.3,224.7 L1092.8,223.0 L1093.0,225.1 L1093.5,227.4 L1093.5,227.4" fill="none" stroke="#000" stroke-width="2.0" stroke-linejoin="round" stroke-linecap="butt" />
<path d="M142.6,213.4 L145.2,211.2 L147.8,208.2 L150.4,204.7 L153.9,200.4 L157.3,196.6 L160.8,193.4 L164.3,190.8 L166.9,186.5 L169.5,182.1 L173.0,176.1 L176.5,171.7 L179.9,168.8 L183.4,167.0 L186.9,166.0 L190.4,163.0 L193.8,158.7 L197.3,153.5 L200.8,145.1 L204.3,138.2 L207.7,129.5 L211.2,120.8 L214.7,112.1 L218.2,104.3 L221.6,98.2 L225.1,94.7 L228.6,93.8 L232.1,96.5 L235.5,99.9 L239.0,105.1 L242.5,112.1 L246.0,120.8 L249.4,131.2 L252.9,139.9 L256.4,145.1 L259.9,148.6 L263.3,150.3 L266.8,150.7 L270.3,150.3 L273.8,151.2 L277.2,152.1 L280.7,152.1 L284.2,154.7 L287.7,157.3 L291.1,159.0 L292.6,160.9 L295.2,166.1 L298.7,172.1 L302.2,180.0 L305.6,188.7 L309.1,197.3 L312.6,204.3 L316.1,211.2 L319.5,218.2 L323.0,225.1 L325.6,230.4 L328.2,235.6 L331.7,239.4 L335.2,240.4 L338.7,239.9 L342.1,239.0 L345.6,238.7 L349.1,239.4 L352.6,241.7 L356.0,244.3 L359.5,245.1 L363.0,246.3 L366.5,247.7 L369.9,252.1 L373.4,256.4 L376.0,261.6 L378.6,266.8 L381.2,270.3 L383.8,272.9 L386.4,275.5 L389.0,279.0 L391.7,284.3 L396.0,287.0 L401.2,287.8 L404.7,290.4 L408.2,294.8 L410.8,300.9 L413.4,307.8 L416.8,313.9 L420.3,321.7 L423.8,326.9 L427.3,332.1 L429.9,337.3 L432.5,344.3 L435.1,351.2 L437.7,358.2 L440.3,365.1 L442.9,370.4 L445.5,374.7 L448.1,376.4 L450.7,377.0 L453.3,378.2 L456.8,379.0 L460.3,379.9 L463.8,379.4 L467.2,376.4 L470.7,372.1 L474.2,368.6 L477.7,365.1 L481.1,362.0 L483.5,361.2 L487.0,360.9 L490.4,362.1 L493.9,364.7 L497.4,368.2 L500.9,371.7 L504.3,376.9 L506.1,380.0 L509.5,386.1 L513.0,392.2 L516.5,398.2 L520.0,404.3 L523.4,411.3 L526.9,419.1 L530.4,426.9 L533.9,434.7 L537.3,439.9 L540.8,442.9 L544.3,445.2 L546.9,444.6 L549.5,441.7 L553.0,438.2 L556.5,434.2 L559.9,430.4 L563.4,426.0 L566.0,419.1 L567.7,411.3 L570.4,402.6 L573.0,393.9 L575.6,387.0 L578.2,381.7 L580.8,373.4 L583.4,369.6 L586.0,367.3 L589.5,366.1 L592.9,365.6 L596.4,364.4 L599.9,364.7 L603.4,367.3 L606.8,370.8 L610.3,374.3 L613.8,377.7 L617.3,380.4 L620.7,383.0 L624.2,385.6 L627.7,388.2 L631.2,389.9 L634.6,390.8 L638.1,392.5 L641.6,394.3 L645.1,396.9 L648.5,399.5 L652.0,402.1 L655.5,404.7 L659.0,406.4 L662.5,408.2 L665.9,409.0 L669.4,408.2 L670.0,408.1 L673.5,406.0 L677.0,405.2 L680.4,406.0 L683.9,407.4 L687.4,408.1 L690.9,408.6 L694.3,408.8 L697.8,409.9 L701.3,412.1 L704.8,415.1 L708.2,418.5 L711.7,422.0 L715.2,424.8 L718.7,426.0 L722.1,427.2 L725.6,428.3 L729.1,429.0 L732.6,430.0 L736.0,431.2 L739.5,433.0 L743.0,434.7 L746.5,435.6 L749.9,436.4 L753.4,437.3 L756.9,439.4 L760.4,442.5 L763.8,446.3 L767.3,450.3 L770.8,453.8 L774.3,455.2 L777.7,455.7 L781.2,456.1 L784.7,456.8 L788.2,457.1 L791.6,456.8 L795.1,455.6 L798.6,453.8 L802.1,452.1 L805.5,450.3 L809.0,447.7 L812.5,444.3 L816.0,439.9 L819.4,434.7 L822.9,429.5 L826.4,426.0 L829.9,422.5 L833.3,419.1 L836.8,416.5 L840.3,414.4 L843.8,412.1 L847.2,410.9 L850.7,410.9 L854.2,413.0 L857.7,416.5 L860.0,419.0 L863.5,421.6 L867.0,423.7 L870.4,425.1 L873.9,426.5 L877.4,427.7 L880.9,428.9 L884.3,430.0 L886.9,429.5 L889.5,424.2 L892.1,416.4 L894.8,407.7 L897.4,400.8 L900.0,394.7 L902.6,389.5 L905.2,385.1 L907.8,380.8 L910.4,376.5 L913.0,373.0 L915.6,369.5 L918.2,366.9 L920.8,365.2 L923.4,363.9 L926.0,363.9 L928.6,367.8 L931.2,372.1 L933.8,373.8 L936.5,374.7 L939.1,376.1 L941.7,377.3 L944.3,379.1 L946.9,381.3 L949.5,383.4 L952.1,382.5 L954.7,381.3 L957.3,379.1 L959.9,375.6 L962.5,372.1 L965.1,368.6 L967.7,365.2 L970.3,360.8 L972.9,356.5 L975.6,351.3 L978.2,346.0 L980.8,340.0 L983.4,333.9 L985.5,328.7 L987.7,327.8 L990.3,328.1 L992.9,327.8 L995.5,327.5 L998.1,327.5 L1000.7,328.1 L1003.4,329.2 L1006.0,329.5 L1008.6,329.9 L1011.2,330.4 L1013.8,332.7 L1016.4,333.9 L1019.0,333.9 L1021.6,333.0 L1024.2,330.4 L1026.8,326.9 L1029.4,323.5 L1032.0,320.5 L1034.6,318.2 L1037.2,316.0 L1039.8,313.9 L1042.5,311.3 L1045.1,308.7 L1047.7,306.1 L1050.3,303.5 L1054.3,297.7 L1056.9,294.3 L1059.5,290.8 L1062.1,287.3 L1064.7,283.8 L1067.3,279.5 L1069.9,275.1 L1072.5,269.1 L1075.1,263.8 L1077.7,258.6 L1080.3,253.4 L1082.9,249.9 L1085.5,246.5 L1088.1,243.9 L1090.7,241.8 L1093.5,239.5" fill="none" stroke="#008000" stroke-width="2.0" stroke-linejoin="round" stroke-linecap="butt" />
<path d="M122.6,214.6 L125.2,209.9 L126.9,207.3 L129.5,209.4 L132.1,207.3 L134.8,206.0 L137.4,207.3 L140.0,209.9 L143.4,212.6 L146.0,209.9 L148.7,203.9 L151.3,198.7 L153.9,192.6 L156.5,187.4 L159.1,181.3 L161.7,176.1 L164.3,171.7 L166.9,168.2 L169.5,165.6 L172.1,163.0 L174.7,161.3 L177.3,162.2 L179.9,163.0 L183.4,162.5 L186.9,164.2 L189.5,163.0 L192.1,158.7 L194.7,152.6 L196.4,145.1 L199.0,132.9 L201.7,120.8 L204.3,108.6 L206.9,96.5 L209.5,84.3 L212.1,77.3 L213.8,69.5 L215.6,67.3 L218.2,70.4 L220.8,75.6 L223.4,82.6 L226.0,89.5 L227.7,96.5 L229.5,106.9 L231.2,119.0 L232.9,127.7 L235.5,134.7 L239.0,139.9 L242.5,143.4 L246.0,146.0 L249.4,144.2 L252.9,146.8 L256.4,152.1 L259.9,154.7 L264.2,156.4 L268.5,156.9 L272.0,154.7 L275.5,151.2 L279.0,149.5 L281.6,148.6 L284.2,153.8 L287.7,159.0 L291.1,164.2 L292.6,167.8 L295.2,180.0 L297.8,193.9 L300.4,200.8 L303.0,207.8 L305.6,218.2 L308.2,228.6 L310.0,233.8 L312.6,233.0 L315.2,231.7 L317.8,231.2 L320.4,234.7 L323.0,236.4 L325.6,237.3 L328.2,239.9 L330.8,243.4 L333.4,247.7 L335.5,249.8 L337.8,246.9 L340.4,242.5 L343.0,239.9 L345.6,238.2 L348.2,236.4 L350.8,234.7 L352.9,234.4 L355.2,236.4 L356.9,241.7 L359.5,249.5 L362.1,253.8 L364.7,258.2 L367.3,265.1 L369.9,272.1 L372.5,277.3 L376.9,284.3 L380.4,287.0 L383.8,288.3 L387.3,287.8 L390.8,289.6 L394.3,288.7 L397.7,287.0 L401.2,288.7 L403.8,293.0 L406.4,297.4 L409.0,302.6 L410.8,311.3 L412.5,321.7 L414.2,332.1 L416.0,339.1 L417.7,346.0 L420.3,353.0 L422.9,357.3 L425.5,360.3 L428.1,360.8 L430.7,357.3 L432.8,361.7 L435.1,366.9 L437.7,371.2 L440.3,377.3 L442.9,384.3 L445.5,389.5 L448.1,392.9 L449.9,394.7 L452.5,390.3 L455.1,386.0 L457.7,382.5 L460.3,377.3 L462.9,370.4 L465.5,363.4 L468.1,356.5 L470.7,351.2 L473.3,349.2 L475.9,350.4 L478.5,351.2 L481.1,352.1 L485.2,366.5 L488.7,373.4 L492.2,377.7 L495.6,382.1 L499.1,384.7 L502.6,386.4 L506.1,389.0 L509.5,394.8 L513.0,402.6 L516.5,410.4 L520.0,419.1 L523.4,428.7 L526.9,439.1 L530.4,449.5 L533.0,457.3 L535.6,463.4 L537.3,461.7 L539.9,457.3 L542.6,454.7 L545.2,451.2 L546.9,444.3 L548.6,433.9 L550.4,425.2 L552.1,419.1 L553.8,413.0 L556.5,407.8 L559.1,404.3 L561.7,400.0 L564.3,395.6 L566.9,388.7 L569.5,381.7 L571.2,376.9 L573.8,369.9 L576.4,361.2 L579.0,354.3 L580.8,349.9 L583.4,347.7 L586.0,349.1 L588.6,352.6 L591.2,358.6 L593.8,364.7 L596.4,371.7 L599.0,376.9 L601.6,383.8 L604.2,388.2 L606.8,389.0 L609.5,387.3 L612.1,386.4 L614.7,387.3 L617.3,384.7 L619.9,383.5 L622.5,384.7 L626.0,387.3 L629.4,390.8 L632.9,394.3 L636.4,399.5 L639.9,402.9 L643.3,405.6 L646.8,407.8 L650.3,409.9 L653.8,412.0 L657.2,411.3 L660.7,409.0 L664.2,409.0 L667.7,409.9 L670.0,406.9 L672.6,403.4 L675.2,399.9 L677.8,399.1 L680.4,402.6 L683.0,406.0 L685.6,407.8 L688.2,411.2 L690.9,414.7 L694.3,418.2 L697.8,419.9 L701.3,420.3 L704.8,423.4 L708.2,426.0 L711.7,427.7 L715.2,431.2 L718.7,433.0 L722.1,432.1 L725.6,431.7 L729.1,431.2 L731.7,430.0 L734.3,429.0 L736.9,430.0 L739.5,433.0 L743.0,436.4 L746.5,439.9 L749.9,443.4 L753.4,446.9 L756.9,450.3 L760.4,453.8 L763.8,457.3 L767.3,460.8 L770.8,463.7 L774.3,464.2 L777.7,461.6 L781.2,458.2 L784.7,454.7 L788.2,451.2 L791.6,448.6 L795.1,447.4 L798.6,446.0 L802.1,444.3 L805.5,445.1 L809.0,444.3 L812.5,439.9 L816.0,432.1 L818.6,425.1 L821.2,418.2 L823.8,411.2 L826.4,406.9 L829.0,404.3 L831.6,403.4 L834.2,404.3 L836.8,406.0 L839.4,409.5 L842.0,413.8 L845.5,416.5 L849.0,417.3 L852.5,419.1 L855.9,421.7 L859.4,425.1 L860.0,425.1 L863.5,427.7 L867.0,429.5 L870.4,430.0 L873.9,430.3 L877.4,430.7 L880.9,430.7 L884.3,430.3 L886.9,429.5 L888.7,425.1 L890.4,418.2 L892.1,407.7 L893.9,395.6 L895.6,383.4 L897.4,373.0 L899.1,366.0 L900.8,359.1 L902.6,353.9 L904.3,350.7 L906.0,349.9 L907.8,350.7 L909.5,355.6 L911.3,360.8 L913.0,366.0 L915.6,369.5 L918.2,372.1 L920.8,374.7 L923.4,376.5 L926.0,378.2 L928.6,379.9 L931.2,380.8 L933.8,380.3 L936.5,379.9 L939.1,379.1 L941.7,379.9 L944.3,382.5 L946.9,385.1 L949.5,386.5 L952.1,385.5 L954.7,383.4 L957.3,380.8 L959.4,376.5 L961.1,369.5 L962.9,362.6 L964.6,355.6 L966.3,348.7 L968.1,342.6 L970.3,336.5 L972.6,329.5 L974.7,321.7 L976.8,315.6 L979.0,311.8 L981.6,310.1 L984.2,310.4 L986.5,313.0 L988.2,317.4 L990.0,323.5 L991.7,328.7 L993.8,334.8 L995.9,340.0 L998.1,344.3 L1000.4,347.8 L1002.5,349.5 L1004.6,348.7 L1006.3,344.3 L1008.0,339.1 L1009.8,333.9 L1012.0,329.5 L1014.6,326.1 L1017.3,322.6 L1019.9,319.5 L1022.5,317.7 L1025.1,317.4 L1027.7,316.5 L1030.3,315.3 L1032.9,313.9 L1035.5,312.2 L1038.1,310.4 L1040.7,307.0 L1042.1,302.9 L1044.7,298.6 L1047.3,294.3 L1049.9,290.8 L1052.5,286.4 L1055.1,282.1 L1057.7,278.6 L1060.3,276.0 L1062.9,273.4 L1065.6,269.1 L1068.2,261.2 L1070.8,254.3 L1073.4,248.2 L1076.0,243.0 L1078.6,236.9 L1081.2,231.7 L1083.8,230.3 L1086.4,230.8 L1089.0,231.4 L1091.6,232.6 L1093.5,231.7" fill="none" stroke="#ff0000" stroke-width="2.0" stroke-linejoin="round" stroke-linecap="butt" />
<path d="M253.8,157.3 L259.9,154.7 L266.8,152.1 L273.8,149.5 L280.7,146.8 L287.7,144.2 L290.0,144.3 L295.2,145.2 L302.2,147.0 L309.1,150.8 L316.1,153.0 L323.0,156.5 L330.0,161.2 L336.9,164.3 L342.1,167.8 L347.3,173.0 L352.6,179.1 L357.8,185.2 L361.2,191.3 L366.5,197.3 L371.7,202.6 L376.9,207.8 L382.1,213.0 L387.3,217.3 L392.5,222.5 L397.7,227.7 L402.9,232.1 L406.4,235.6 L409.9,239.9 L413.4,246.0 L418.6,252.9 L423.8,260.8 L429.0,268.6 L434.2,276.4 L439.4,284.2 L443.8,290.4 L448.1,295.6 L453.3,300.0 L458.5,304.0 L463.8,307.8 L469.0,311.3 L474.2,313.9 L479.4,317.4 L485.2,324.8 L490.4,330.8 L495.6,336.0 L500.9,341.3 L506.1,346.5 L511.3,351.7 L516.5,356.9 L521.7,363.0 L526.9,369.1 L532.1,375.1 L537.3,380.4 L542.6,385.2 L547.8,389.4 L553.0,392.5 L558.2,394.3 L563.4,394.6 L568.6,394.6 L573.8,394.3 L579.0,393.7 L584.3,392.5 L589.5,391.7 L594.7,390.8 L599.9,390.8 L605.1,391.7 L610.3,392.9 L615.5,393.9 L620.7,395.1 L626.0,396.3 L631.2,397.7 L636.4,398.6 L641.6,399.5 L646.8,400.3 L652.0,400.9 L657.2,401.2 L662.5,401.2 L667.7,400.3 L670.0,399.9 L675.2,396.5 L680.4,393.9 L685.6,392.5 L690.9,391.8 L696.1,391.8 L701.3,392.6 L706.5,394.2 L711.7,396.0 L716.9,399.1 L722.1,402.6 L727.3,405.7 L732.6,408.1 L737.8,410.4 L743.0,412.1 L748.2,413.3 L753.4,415.1 L758.6,417.3 L763.8,420.3 L769.0,423.4 L774.3,425.7 L779.5,427.4 L784.7,429.0 L789.9,430.0 L795.1,431.2 L800.3,433.0 L805.5,434.2 L810.7,435.0 L816.0,435.6 L821.2,435.7 L826.4,435.7 L833.3,435.6 L840.3,435.6 L847.2,435.4 L854.2,435.4 L860.0,435.2 L865.2,434.8 L870.4,434.7 L875.6,434.7 L880.9,434.8 L886.1,435.2 L889.5,433.8 L893.0,431.2 L896.5,428.6 L901.7,424.8 L906.9,420.8 L912.1,417.3 L917.3,413.8 L922.6,411.2 L927.8,408.6 L933.0,406.3 L938.2,405.1 L943.4,403.7 L948.6,401.7 L953.8,399.0 L959.0,395.9 L964.3,393.0 L969.5,390.0 L974.7,386.9 L979.9,383.4 L985.1,380.3 L990.3,377.8 L995.5,375.6 L1000.7,373.0 L1006.0,369.5 L1011.2,365.7 L1016.4,361.7 L1021.6,357.3 L1026.8,353.0 L1032.0,348.7 L1037.2,345.2 L1042.5,342.6 L1047.7,340.8 L1052.9,338.2 L1054.3,337.7 L1058.6,335.1 L1062.9,332.5 L1067.3,329.0 L1071.6,325.5 L1076.0,321.2 L1080.3,316.8 L1084.7,311.6 L1089.0,306.4 L1093.5,301.6" fill="none" stroke="#800080" stroke-width="2.0" stroke-linejoin="round" stroke-linecap="butt" />
<path d="M57.5,209.50 H1142.5" stroke="#008000" stroke-opacity="0.7" stroke-width="1.39" stroke-dasharray="8.9 2.2 1.4 2.2" fill="none"/>
<path d="M57.5,407.50 H1142.5" stroke="#ff0000" stroke-opacity="0.7" stroke-width="1.39" stroke-dasharray="8.9 2.2 1.4 2.2" fill="none"/>
<path d="M1093.5,514.5 V9.5" stroke="#008000" stroke-opacity="0.7" stroke-width="1.39" stroke-dasharray="5.1 2.2" fill="none"/>
</g>
<path d="M188.50,514.5 v5.2 M375.50,514.5 v5.2 M563.50,514.5 v5.2 M750.50,514.5 v5.2 M938.50,514.5 v5.2 M1125.50,514.5 v5.2 M57.5,434.50 h-5.2 M57.5,352.50 h-5.2 M57.5,270.50 h-5.2 M57.5,187.50 h-5.2 M57.5,105.50 h-5.2 M57.5,23.50 h-5.2" stroke="#000" stroke-width="1.05" fill="none"/>
<rect x="57.5" y="9.5" width="1085.0" height="505.0" fill="none" stroke="#000" stroke-width="1.05" stroke-linejoin="miter"/>
<text x="47.2" y="439.0" font-size="12.6" text-anchor="end" fill="#000" textLength="14.8" lengthAdjust="spacingAndGlyphs" >40</text>
<text x="47.2" y="357.0" font-size="12.6" text-anchor="end" fill="#000" textLength="14.8" lengthAdjust="spacingAndGlyphs" >50</text>
<text x="47.2" y="275.0" font-size="12.6" text-anchor="end" fill="#000" textLength="14.8" lengthAdjust="spacingAndGlyphs" >60</text>
<text x="47.2" y="192.0" font-size="12.6" text-anchor="end" fill="#000" textLength="14.8" lengthAdjust="spacingAndGlyphs" >70</text>
<text x="47.2" y="110.0" font-size="12.6" text-anchor="end" fill="#000" textLength="14.8" lengthAdjust="spacingAndGlyphs" >80</text>
<text x="47.2" y="28.0" font-size="12.6" text-anchor="end" fill="#000" textLength="14.8" lengthAdjust="spacingAndGlyphs" >90</text>
<rect x="942.2" y="403.6" width="182.8" height="89.8" rx="3.2" ry="3.2" fill="#fff" fill-opacity="0.9" stroke="#008000" stroke-width="1.11"/>
<text x="1119.9" y="419.6" font-size="14.0" text-anchor="end" fill="#008000" textLength="151.5" lengthAdjust="spacingAndGlyphs" >65.47 (+0.34 +0.51%)</text>
<text x="1119.9" y="435.8" font-size="14.0" text-anchor="end" fill="#008000" textLength="89.0" lengthAdjust="spacingAndGlyphs" >43.28~67.37</text>
<text x="1119.9" y="452.2" font-size="14.0" text-anchor="end" fill="#008000" textLength="136.3" lengthAdjust="spacingAndGlyphs" >64.67/63.61/56.03</text>
<text x="1119.9" y="468.5" font-size="14.0" text-anchor="end" fill="#008000" textLength="127.4" lengthAdjust="spacingAndGlyphs" >2025-10-29 04:00</text>
<text x="1119.9" y="487.3" font-size="14.0" text-anchor="end" fill="#008000" textLength="172.9" lengthAdjust="spacingAndGlyphs">-0.80/偏空/+0.55/+0.10</text>
<rect x="64.7" y="16.9" width="107.7" height="119.2" rx="2.2" ry="2.2" fill="#fff" fill-opacity="0.8" stroke="#ccc" stroke-opacity="0.8" stroke-width="1.11"/>
<path d="M69.2,26.9 H97.8" stroke="#000" stroke-width="2.0"/>
<path d="M69.2,46.9 H97.8" stroke="#008000" stroke-width="2.0"/>
<path d="M69.2,66.9 H97.8" stroke="#ff0000" stroke-width="2.0"/>
<path d="M69.2,86.0 H97.8" stroke="#800080" stroke-width="2.0"/>
<path d="M84.6,96.1 L74.4,115.0 L94.8,115.0 Z" fill="#008000"/>
<path d="M84.6,135.5 L74.2,115.0 L95.0,115.0 Z" fill="#ff0000"/>
<text x="109.5" y="31.8" font-size="11.9" text-anchor="start" fill="#000" textLength="31.6" lengthAdjust="spacingAndGlyphs" >Close</text>
<text x="109.5" y="52.1" font-size="11.9" text-anchor="start" fill="#000" textLength="55.6" lengthAdjust="spacingAndGlyphs" >MA50[<tspan font-size="12.6">买</tspan>]</text>
<text x="109.5" y="72.6" font-size="11.9" text-anchor="start" fill="#000" textLength="55.6" lengthAdjust="spacingAndGlyphs" >MA25[<tspan font-size="12.6">卖</tspan>]</text>
<text x="109.5" y="91.6" font-size="11.9" text-anchor="start" fill="#000" textLength="41.7" lengthAdjust="spacingAndGlyphs" >MA200</text>
<text x="109.5" y="109.8" font-size="11.9" text-anchor="start" fill="#000" textLength="20.0" lengthAdjust="spacingAndGlyphs" >Buy</text>
<text x="109.5" y="128.9" font-size="11.9" text-anchor="start" fill="#000" textLength="20.5" lengthAdjust="spacingAndGlyphs" >Sell</text>
<path d="M188.50,531.5 V699.5 M375.50,531.5 V699.5 M563.50,531.5 V699.5 M750.50,531.5 V699.5 M938.50,531.5 V699.5 M1125.50,531.5 V699.5 M57.5,644.50 H1142.5 M57.5,588.50 H1142.5 M57.5,533.50 H1142.5" stroke="#b0b0b0" stroke-width="1.05" fill="none"/>
<path d="M107,699.5V655.2h1V699.5zM108,699.5V675.3h1V699.5zM109,699.5V684.1h1V699.5zM111,699.5V684.9h1V699.5zM112,699.5V655.2h1V699.5zM118,699.5V683.8h1V699.5zM119,699.5V666.2h1V699.5zM120,699.5V676.1h1V699.5zM122,699.5V665.2h1V699.5zM123,699.5V678.4h1V699.5zM125,699.5V676.3h1V699.5zM126,699.5V650.7h1V699.5zM127,699.5V693.0h1V699.5zM129,699.5V668.5h1V699.5zM130,699.5V674.5h1V699.5zM132,699.5V674.5h1V699.5zM133,699.5V693.1h1V699.5zM135,699.5V642.4h1V699.5zM138,699.5V693.2h1V699.5zM140,699.5V688.8h1V699.5zM141,699.5V685.6h1V699.5zM143,699.5V676.9h1V699.5zM144,699.5V671.8h1V699.5zM145,699.5V673.6h1V699.5zM147,699.5V686.9h1V699.5zM148,699.5V676.7h1V699.5zM150,699.5V675.4h1V699.5zM151,699.5V687.0h1V699.5zM152,699.5V649.5h1V699.5zM158,699.5V672.5h1V699.5zM159,699.5V659.3h1V699.5zM161,699.5V686.4h1V699.5zM162,699.5V643.0h1V699.5zM163,699.5V683.9h1V699.5zM165,699.5V681.4h1V699.5zM166,699.5V670.8h1V699.5zM168,699.5V599.7h1V699.5zM169,699.5V684.7h1V699.5zM170,699.5V688.7h1V699.5zM172,699.5V685.3h1V699.5zM177,699.5V657.2h1V699.5zM179,699.5V643.0h1V699.5zM180,699.5V676.3h1V699.5zM181,699.5V673.4h1V699.5zM183,699.5V691.5h1V699.5zM184,699.5V678.8h1V699.5zM186,699.5V654.1h1V699.5zM187,699.5V693.7h1V699.5zM188,699.5V646.3h1V699.5zM190,699.5V680.4h1V699.5zM191,699.5V687.2h1V699.5zM197,699.5V671.4h1V699.5zM198,699.5V679.6h1V699.5zM199,699.5V691.1h1V699.5zM201,699.5V645.2h1V699.5zM202,699.5V668.4h1V699.5zM204,699.5V663.0h1V699.5zM205,699.5V650.1h1V699.5zM206,699.5V674.3h1V699.5zM208,699.5V678.0h1V699.5zM209,699.5V690.6h1V699.5zM211,699.5V670.7h1V699.5zM212,699.5V647.4h1V699.5zM214,699.5V619.7h1V699.5zM216,699.5V649.6h1V699.5zM217,699.5V685.1h1V699.5zM219,699.5V690.9h1V699.5zM220,699.5V689.2h1V699.5zM222,699.5V686.1h1V699.5zM223,699.5V658.4h1V699.5zM224,699.5V694.3h1V699.5zM226,699.5V692.1h1V699.5zM227,699.5V678.5h1V699.5zM229,699.5V655.7h1V699.5zM230,699.5V674.0h1V699.5zM231,699.5V694.0h1V699.5zM236,699.5V660.1h1V699.5zM237,699.5V695.9h1V699.5zM238,699.5V678.2h1V699.5zM239,699.5V650.7h1V699.5zM240,699.5V688.8h1V699.5zM241,699.5V691.1h1V699.5zM242,699.5V668.9h1V699.5zM244,699.5V666.9h1V699.5zM245,699.5V662.4h1V699.5zM247,699.5V680.6h1V699.5zM248,699.5V665.1h1V699.5zM249,699.5V657.3h1V699.5zM252,699.5V666.2h1V699.5zM255,699.5V693.1h1V699.5zM256,699.5V695.6h1V699.5zM258,699.5V695.5h1V699.5zM259,699.5V698.4h1V699.5zM260,699.5V693.2h1V699.5zM262,699.5V694.3h1V699.5zM263,699.5V695.5h1V699.5zM265,699.5V698.6h1V699.5zM266,699.5V697.5h1V699.5zM267,699.5V694.5h1V699.5zM269,699.5V698.5h1V699.5zM270,699.5V696.8h1V699.5zM276,699.5V693.7h1V699.5zM277,699.5V698.1h1V699.5zM278,699.5V691.2h1V699.5zM280,699.5V695.0h1V699.5zM281,699.5V696.6h1V699.5zM283,699.5V693.4h1V699.5zM284,699.5V679.5h1V699.5zM285,699.5V691.5h1V699.5zM287,699.5V683.3h1V699.5zM288,699.5V694.2h1V699.5zM290,699.5V693.3h1V699.5zM294,699.5V684.3h1V699.5zM295,699.5V672.3h1V699.5zM296,699.5V694.9h1V699.5zM298,699.5V685.1h1V699.5zM299,699.5V679.7h1V699.5zM301,699.5V693.4h1V699.5zM302,699.5V696.1h1V699.5zM303,699.5V692.2h1V699.5zM305,699.5V692.2h1V699.5zM306,699.5V692.9h1V699.5zM308,699.5V680.4h1V699.5zM309,699.5V695.3h1V699.5zM314,699.5V682.1h1V699.5zM315,699.5V671.2h1V699.5zM316,699.5V695.9h1V699.5zM317,699.5V694.6h1V699.5zM319,699.5V687.7h1V699.5zM320,699.5V683.4h1V699.5zM321,699.5V685.9h1V699.5zM323,699.5V689.6h1V699.5zM324,699.5V690.8h1V699.5zM326,699.5V690.7h1V699.5zM327,699.5V688.1h1V699.5zM328,699.5V692.3h1V699.5zM334,699.5V690.0h1V699.5zM335,699.5V688.1h1V699.5zM337,699.5V691.5h1V699.5zM338,699.5V686.7h1V699.5zM339,699.5V688.2h1V699.5zM341,699.5V677.5h1V699.5zM342,699.5V689.0h1V699.5zM344,699.5V692.5h1V699.5zM345,699.5V692.1h1V699.5zM346,699.5V690.0h1V699.5zM348,699.5V681.7h1V699.5zM349,699.5V663.5h1V699.5zM353,699.5V691.0h1V699.5zM355,699.5V686.2h1V699.5zM356,699.5V671.9h1V699.5zM357,699.5V697.4h1V699.5zM359,699.5V694.3h1V699.5zM360,699.5V687.2h1V699.5zM362,699.5V686.0h1V699.5zM363,699.5V687.2h1V699.5zM364,699.5V691.4h1V699.5zM366,699.5V683.5h1V699.5zM367,699.5V686.8h1V699.5zM373,699.5V691.7h1V699.5zM374,699.5V671.1h1V699.5zM375,699.5V686.1h1V699.5zM377,699.5V691.8h1V699.5zM378,699.5V689.3h1V699.5zM380,699.5V690.1h1V699.5zM381,699.5V689.0h1V699.5zM382,699.5V697.5h1V699.5zM384,699.5V691.4h1V699.5zM385,699.5V679.0h1V699.5zM387,699.5V694.2h1V699.5zM388,699.5V689.0h1V699.5zM392,699.5V679.5h1V699.5zM393,699.5V680.7h1V699.5zM395,699.5V671.5h1V699.5zM396,699.5V695.6h1V699.5zM398,699.5V690.5h1V699.5zM399,699.5V690.5h1V699.5zM400,699.5V683.0h1V699.5zM402,699.5V677.4h1V699.5zM403,699.5V697.4h1V699.5zM405,699.5V677.4h1V699.5zM406,699.5V694.9h1V699.5zM407,699.5V682.2h1V699.5zM408,699.5V669.6h1V699.5zM413,699.5V695.0h1V699.5zM414,699.5V686.8h1V699.5zM416,699.5V675.5h1V699.5zM417,699.5V689.1h1V699.5zM418,699.5V686.6h1V699.5zM420,699.5V680.6h1V699.5zM421,699.5V686.9h1V699.5zM423,699.5V688.6h1V699.5zM424,699.5V670.1h1V699.5zM425,699.5V677.3h1V699.5zM427,699.5V689.8h1V699.5zM432,699.5V668.7h1V699.5zM434,699.5V693.7h1V699.5zM435,699.5V678.8h1V699.5zM436,699.5V689.5h1V699.5zM438,699.5V686.7h1V699.5zM439,699.5V681.2h1V699.5zM441,699.5V685.9h1V699.5zM442,699.5V681.9h1V699.5zM443,699.5V694.9h1V699.5zM445,699.5V694.8h1V699.5zM446,699.5V682.0h1V699.5zM452,699.5V692.9h1V699.5zM453,699.5V693.2h1V699.5zM454,699.5V694.7h1V699.5zM456,699.5V673.1h1V699.5zM457,699.5V680.4h1V699.5zM459,699.5V669.5h1V699.5zM460,699.5V692.8h1V699.5zM461,699.5V687.4h1V699.5zM463,699.5V693.5h1V699.5zM464,699.5V665.1h1V699.5zM466,699.5V645.7h1V699.5zM471,699.5V692.5h1V699.5zM472,699.5V667.6h1V699.5zM474,699.5V677.1h1V699.5zM475,699.5V688.6h1V699.5zM477,699.5V695.9h1V699.5zM478,699.5V670.4h1V699.5zM479,699.5V688.0h1V699.5zM481,699.5V691.1h1V699.5zM482,699.5V683.9h1V699.5zM484,699.5V683.7h1V699.5zM485,699.5V668.5h1V699.5zM486,699.5V693.0h1V699.5zM490,699.5V674.7h1V699.5zM492,699.5V668.6h1V699.5zM493,699.5V669.3h1V699.5zM495,699.5V688.5h1V699.5zM496,699.5V691.7h1V699.5zM497,699.5V676.3h1V699.5zM499,699.5V686.3h1V699.5zM500,699.5V686.2h1V699.5zM502,699.5V669.6h1V699.5zM503,699.5V689.0h1V699.5zM504,699.5V696.5h1V699.5zM510,699.5V689.7h1V699.5zM511,699.5V695.6h1V699.5zM513,699.5V678.8h1V699.5zM514,699.5V666.2h1V699.5zM515,699.5V691.0h1V699.5zM517,699.5V687.1h1V699.5zM518,699.5V678.6h1V699.5zM520,699.5V686.4h1V699.5zM521,699.5V671.1h1V699.5zM522,699.5V687.5h1V699.5zM524,699.5V675.6h1V699.5zM525,699.5V667.9h1V699.5zM531,699.5V666.4h1V699.5zM532,699.5V691.2h1V699.5zM533,699.5V677.8h1V699.5zM535,699.5V695.6h1V699.5zM536,699.5V665.1h1V699.5zM538,699.5V695.8h1V699.5zM539,699.5V675.0h1V699.5zM540,699.5V693.6h1V699.5zM542,699.5V687.0h1V699.5zM543,699.5V688.3h1V699.5zM549,699.5V687.0h1V699.5zM550,699.5V690.7h1V699.5zM551,699.5V684.8h1V699.5zM553,699.5V665.9h1V699.5zM554,699.5V672.9h1V699.5zM556,699.5V681.8h1V699.5zM557,699.5V675.8h1V699.5zM558,699.5V688.2h1V699.5zM560,699.5V693.7h1V699.5zM561,699.5V690.5h1V699.5zM563,699.5V675.1h1V699.5zM564,699.5V695.0h1V699.5zM569,699.5V691.1h1V699.5zM571,699.5V676.9h1V699.5zM572,699.5V679.8h1V699.5zM574,699.5V687.5h1V699.5zM575,699.5V680.0h1V699.5zM576,699.5V686.4h1V699.5zM578,699.5V693.9h1V699.5zM579,699.5V695.1h1V699.5zM581,699.5V691.8h1V699.5zM582,699.5V679.3h1V699.5zM583,699.5V691.5h1V699.5zM589,699.5V693.2h1V699.5zM590,699.5V692.7h1V699.5zM592,699.5V695.3h1V699.5zM593,699.5V689.5h1V699.5zM594,699.5V694.3h1V699.5zM596,699.5V686.2h1V699.5zM597,699.5V697.1h1V699.5zM599,699.5V686.8h1V699.5zM600,699.5V692.6h1V699.5zM601,699.5V696.5h1V699.5zM603,699.5V684.2h1V699.5zM608,699.5V691.9h1V699.5zM610,699.5V697.3h1V699.5zM611,699.5V694.5h1V699.5zM612,699.5V689.4h1V699.5zM614,699.5V693.4h1V699.5zM615,699.5V686.7h1V699.5zM617,699.5V687.5h1V699.5zM618,699.5V688.3h1V699.5zM619,699.5V690.6h1V699.5zM621,699.5V683.0h1V699.5zM622,699.5V688.6h1V699.5zM628,699.5V689.9h1V699.5zM629,699.5V697.5h1V699.5zM630,699.5V686.8h1V699.5zM632,699.5V683.0h1V699.5zM633,699.5V693.4h1V699.5zM635,699.5V694.0h1V699.5zM636,699.5V680.1h1V699.5zM637,699.5V697.0h1V699.5zM639,699.5V689.6h1V699.5zM640,699.5V680.0h1V699.5zM642,699.5V695.3h1V699.5zM647,699.5V688.1h1V699.5zM648,699.5V679.8h1V699.5zM650,699.5V692.6h1V699.5zM651,699.5V688.9h1V699.5zM653,699.5V686.3h1V699.5zM654,699.5V695.2h1V699.5zM655,699.5V692.4h1V699.5zM657,699.5V690.4h1V699.5zM658,699.5V686.9h1V699.5zM660,699.5V692.1h1V699.5zM661,699.5V692.8h1V699.5zM662,699.5V695.4h1V699.5zM667,699.5V672.9h1V699.5zM668,699.5V693.4h1V699.5zM669,699.5V686.2h1V699.5zM671,699.5V691.3h1V699.5zM672,699.5V695.0h1V699.5zM673,699.5V694.9h1V699.5zM675,699.5V679.1h1V699.5zM676,699.5V683.8h1V699.5zM678,699.5V688.0h1V699.5zM679,699.5V697.9h1V699.5zM680,699.5V688.1h1V699.5zM682,699.5V689.0h1V699.5zM686,699.5V678.8h1V699.5zM687,699.5V689.3h1V699.5zM689,699.5V691.9h1V699.5zM690,699.5V688.6h1V699.5zM691,699.5V697.1h1V699.5zM693,699.5V684.5h1V699.5zM694,699.5V689.8h1V699.5zM696,699.5V694.4h1V699.5zM697,699.5V681.4h1V699.5zM698,699.5V678.5h1V699.5zM700,699.5V696.1h1V699.5zM701,699.5V694.2h1V699.5zM707,699.5V674.0h1V699.5zM708,699.5V690.2h1V699.5zM709,699.5V693.0h1V699.5zM711,699.5V694.9h1V699.5zM712,699.5V677.1h1V699.5zM714,699.5V672.3h1V699.5zM715,699.5V695.4h1V699.5zM716,699.5V695.7h1V699.5zM718,699.5V676.5h1V699.5zM719,699.5V683.3h1V699.5zM721,699.5V676.2h1V699.5zM725,699.5V661.3h1V699.5zM726,699.5V684.6h1V699.5zM727,699.5V694.2h1V699.5zM729,699.5V688.7h1V699.5zM730,699.5V697.1h1V699.5zM732,699.5V693.7h1V699.5zM733,699.5V690.5h1V699.5zM734,699.5V686.6h1V699.5zM736,699.5V693.5h1V699.5zM737,699.5V690.7h1V699.5zM739,699.5V686.8h1V699.5zM740,699.5V687.4h1V699.5zM741,699.5V674.0h1V699.5zM745,699.5V685.0h1V699.5zM747,699.5V688.3h1V699.5zM748,699.5V691.4h1V699.5zM750,699.5V683.2h1V699.5zM751,699.5V677.3h1V699.5zM752,699.5V693.5h1V699.5zM754,699.5V692.6h1V699.5zM755,699.5V689.3h1V699.5zM757,699.5V689.9h1V699.5zM758,699.5V688.1h1V699.5zM759,699.5V689.1h1V699.5zM761,699.5V651.8h1V699.5zM765,699.5V688.4h1V699.5zM766,699.5V690.4h1V699.5zM768,699.5V695.1h1V699.5zM769,699.5V664.6h1V699.5zM770,699.5V681.2h1V699.5zM772,699.5V687.2h1V699.5zM773,699.5V691.2h1V699.5zM775,699.5V687.5h1V699.5zM776,699.5V694.5h1V699.5zM777,699.5V676.2h1V699.5zM779,699.5V690.4h1V699.5zM780,699.5V694.6h1V699.5zM784,699.5V686.2h1V699.5zM786,699.5V695.3h1V699.5zM787,699.5V697.9h1V699.5zM788,699.5V695.2h1V699.5zM790,699.5V678.5h1V699.5zM791,699.5V693.3h1V699.5zM793,699.5V696.2h1V699.5zM794,699.5V694.8h1V699.5zM795,699.5V689.1h1V699.5zM797,699.5V689.5h1V699.5zM798,699.5V691.4h1V699.5zM804,699.5V681.3h1V699.5zM805,699.5V688.3h1V699.5zM806,699.5V692.3h1V699.5zM808,699.5V688.9h1V699.5zM809,699.5V680.2h1V699.5zM811,699.5V686.1h1V699.5zM812,699.5V685.6h1V699.5zM813,699.5V695.7h1V699.5zM815,699.5V692.8h1V699.5zM816,699.5V687.9h1V699.5zM818,699.5V693.3h1V699.5zM819,699.5V685.1h1V699.5zM824,699.5V688.6h1V699.5zM826,699.5V686.3h1V699.5zM827,699.5V692.9h1V699.5zM829,699.5V679.5h1V699.5zM830,699.5V683.1h1V699.5zM831,699.5V692.8h1V699.5zM833,699.5V691.4h1V699.5zM834,699.5V680.1h1V699.5zM836,699.5V693.3h1V699.5zM837,699.5V686.3h1V699.5zM838,699.5V685.4h1V699.5zM844,699.5V691.7h1V699.5zM845,699.5V695.7h1V699.5zM847,699.5V690.7h1V699.5zM848,699.5V689.7h1V699.5zM849,699.5V683.7h1V699.5zM851,699.5V686.7h1V699.5zM852,699.5V691.5h1V699.5zM854,699.5V686.1h1V699.5zM855,699.5V688.4h1V699.5zM856,699.5V690.5h1V699.5zM858,699.5V691.3h1V699.5zM861,699.5V675.1h1V699.5zM863,699.5V692.5h1V699.5zM865,699.5V686.8h1V699.5zM866,699.5V695.1h1V699.5zM867,699.5V693.8h1V699.5zM869,699.5V690.9h1V699.5zM870,699.5V696.0h1V699.5zM872,699.5V692.8h1V699.5zM873,699.5V697.0h1V699.5zM874,699.5V659.6h1V699.5zM876,699.5V686.6h1V699.5zM877,699.5V686.6h1V699.5zM883,699.5V690.3h1V699.5zM884,699.5V691.2h1V699.5zM885,699.5V695.1h1V699.5zM887,699.5V655.8h1V699.5zM888,699.5V672.7h1V699.5zM890,699.5V652.7h1V699.5zM891,699.5V610.8h1V699.5zM892,699.5V643.0h1V699.5zM894,699.5V609.2h1V699.5zM895,699.5V663.6h1V699.5zM897,699.5V645.2h1V699.5zM899,699.5V660.7h1V699.5zM902,699.5V693.3h1V699.5zM903,699.5V680.4h1V699.5zM904,699.5V671.8h1V699.5zM905,699.5V671.4h1V699.5zM906,699.5V693.2h1V699.5zM908,699.5V693.7h1V699.5zM909,699.5V618.6h1V699.5zM910,699.5V655.2h1V699.5zM912,699.5V658.5h1V699.5zM913,699.5V682.8h1V699.5zM915,699.5V681.1h1V699.5zM916,699.5V676.8h1V699.5zM917,699.5V676.4h1V699.5zM923,699.5V672.3h1V699.5zM924,699.5V673.8h1V699.5zM926,699.5V694.3h1V699.5zM927,699.5V691.2h1V699.5zM928,699.5V693.8h1V699.5zM930,699.5V674.6h1V699.5zM931,699.5V689.4h1V699.5zM933,699.5V688.5h1V699.5zM934,699.5V684.4h1V699.5zM935,699.5V695.3h1V699.5zM940,699.5V668.5h1V699.5zM941,699.5V693.8h1V699.5zM942,699.5V687.3h1V699.5zM944,699.5V688.3h1V699.5zM945,699.5V688.9h1V699.5zM946,699.5V687.0h1V699.5zM948,699.5V691.2h1V699.5zM949,699.5V678.7h1V699.5zM951,699.5V682.3h1V699.5zM952,699.5V666.2h1V699.5zM953,699.5V690.2h1V699.5zM955,699.5V686.5h1V699.5zM956,699.5V696.8h1V699.5zM959,699.5V639.6h1V699.5zM960,699.5V664.0h1V699.5zM962,699.5V691.0h1V699.5zM963,699.5V683.4h1V699.5zM964,699.5V693.3h1V699.5zM966,699.5V652.9h1V699.5zM967,699.5V681.6h1V699.5zM969,699.5V692.4h1V699.5zM970,699.5V685.1h1V699.5zM971,699.5V685.5h1V699.5zM973,699.5V650.7h1V699.5zM974,699.5V673.9h1V699.5zM976,699.5V682.1h1V699.5zM978,699.5V657.4h1V699.5zM980,699.5V618.6h1V699.5zM981,699.5V682.5h1V699.5zM982,699.5V681.5h1V699.5zM984,699.5V669.4h1V699.5zM985,699.5V651.8h1V699.5zM987,699.5V610.8h1V699.5zM988,699.5V567.6h1V699.5zM989,699.5V669.6h1V699.5zM991,699.5V687.8h1V699.5zM992,699.5V690.6h1V699.5zM994,699.5V684.7h1V699.5zM995,699.5V662.9h1V699.5zM1000,699.5V687.6h1V699.5zM1002,699.5V684.3h1V699.5zM1003,699.5V691.1h1V699.5zM1005,699.5V671.2h1V699.5zM1006,699.5V690.8h1V699.5zM1007,699.5V678.6h1V699.5zM1009,699.5V665.1h1V699.5zM1010,699.5V678.9h1V699.5zM1012,699.5V697.2h1V699.5zM1013,699.5V675.7h1V699.5zM1014,699.5V687.8h1V699.5zM1020,699.5V685.6h1V699.5zM1021,699.5V674.5h1V699.5zM1023,699.5V688.1h1V699.5zM1024,699.5V668.5h1V699.5zM1025,699.5V684.8h1V699.5zM1027,699.5V683.3h1V699.5zM1028,699.5V687.3h1V699.5zM1030,699.5V691.6h1V699.5zM1031,699.5V687.6h1V699.5zM1032,699.5V695.1h1V699.5zM1034,699.5V682.0h1V699.5zM1039,699.5V695.2h1V699.5zM1041,699.5V688.2h1V699.5zM1042,699.5V665.1h1V699.5zM1043,699.5V688.8h1V699.5zM1045,699.5V685.0h1V699.5zM1046,699.5V668.5h1V699.5zM1048,699.5V685.0h1V699.5zM1049,699.5V690.8h1V699.5zM1050,699.5V682.7h1V699.5zM1052,699.5V679.1h1V699.5zM1053,699.5V662.4h1V699.5zM1059,699.5V690.7h1V699.5zM1060,699.5V662.3h1V699.5zM1061,699.5V669.6h1V699.5zM1063,699.5V661.8h1V699.5zM1064,699.5V660.7h1V699.5zM1066,699.5V688.8h1V699.5zM1067,699.5V671.8h1V699.5zM1068,699.5V690.5h1V699.5zM1070,699.5V678.3h1V699.5zM1071,699.5V689.2h1V699.5zM1073,699.5V690.5h1V699.5zM1074,699.5V669.6h1V699.5zM1078,699.5V667.9h1V699.5zM1079,699.5V685.8h1V699.5zM1081,699.5V690.5h1V699.5zM1082,699.5V676.8h1V699.5zM1084,699.5V686.2h1V699.5zM1085,699.5V663.5h1V699.5zM1086,699.5V664.3h1V699.5zM1088,699.5V672.0h1V699.5zM1089,699.5V689.6h1V699.5zM1091,699.5V663.6h1V699.5zM1092,699.5V680.7h1V699.5z" fill="#808080" fill-opacity="0.5" shape-rendering="crispEdges"/>
<path d="M188.50,699.5 v5.2 M375.50,699.5 v5.2 M563.50,699.5 v5.2 M750.50,699.5 v5.2 M938.50,699.5 v5.2 M1125.50,699.5 v5.2 M57.5,699.50 h-5.2 M57.5,644.50 h-5.2 M57.5,588.50 h-5.2 M57.5,533.50 h-5.2" stroke="#000" stroke-width="1.05" fill="none"/>
<rect x="57.5" y="531.5" width="1085.0" height="168.0" fill="none" stroke="#000" stroke-width="1.05" stroke-linejoin="miter"/>
<text x="46.3" y="704.1" font-size="12.6" text-anchor="end" fill="#000" textLength="18.4" lengthAdjust="spacingAndGlyphs" >0.0</text>
<text x="46.3" y="649.1" font-size="12.6" text-anchor="end" fill="#000" textLength="18.4" lengthAdjust="spacingAndGlyphs" >0.5</text>
<text x="46.3" y="593.1" font-size="12.6" text-anchor="end" fill="#000" textLength="18.4" lengthAdjust="spacingAndGlyphs" >1.0</text>
<text x="46.3" y="538.1" font-size="12.6" text-anchor="end" fill="#000" textLength="18.4" lengthAdjust="spacingAndGlyphs" >1.5</text>
<text x="188.5" y="719.0" font-size="12.6" text-anchor="middle" fill="#000" textLength="52.6" lengthAdjust="spacingAndGlyphs" >2021-01</text>
<text x="375.5" y="719.0" font-size="12.6" text-anchor="middle" fill="#000" textLength="52.6" lengthAdjust="spacingAndGlyphs" >2022-01</text>
<text x="563.5" y="719.0" font-size="12.6" text-anchor="middle" fill="#000" textLength="52.6" lengthAdjust="spacingAndGlyphs" >2023-01</text>
<text x="750.5" y="719.0" font-size="12.6" text-anchor="middle" fill="#000" textLength="52.6" lengthAdjust="spacingAndGlyphs" >2024-01</text>
<text x="938.5" y="719.0" font-size="12.6" text-anchor="middle" fill="#000" textLength="52.6" lengthAdjust="spacingAndGlyphs" >2025-01</text>
<text x="1125.5" y="719.0" font-size="12.6" text-anchor="middle" fill="#000" textLength="52.6" lengthAdjust="spacingAndGlyphs" >2026-01</text>
<text x="58.0" y="527.5" font-size="12.6" text-anchor="start" fill="#000" textLength="21.8" lengthAdjust="spacingAndGlyphs" >1e6</text>
<text transform="translate(18.2,617.4) rotate(-90)" font-size="12.6" text-anchor="middle" textLength="42.8" lengthAdjust="spacingAndGlyphs">Volume</text>
<text x="57.6" y="756.4" font-size="15.6" textLength="37.4" lengthAdjust="spacingAndGlyphs">MCHI</text>
<text x="100.7" y="757.4" font-size="16.1" textLength="73.6" lengthAdjust="spacingAndGlyphs">交易次数:</text>
<text x="179.8" y="756.4" font-size="15.6" textLength="6.9" lengthAdjust="spacingAndGlyphs">1</text>
<text x="57.6" y="777.8" font-size="16.1" textLength="102.5" lengthAdjust="spacingAndGlyphs">策略总收益率:</text>
<text x="166.5" y="776.8" font-size="15.6" textLength="51.7" lengthAdjust="spacingAndGlyphs">-8.75%</text>
<text x="57.6" y="798.0" font-size="16.1" textLength="102.5" lengthAdjust="spacingAndGlyphs">长期持有收益:</text>
<text x="166.5" y="797.0" font-size="15.6" textLength="51.7" lengthAdjust="spacingAndGlyphs">-8.75%</text>
<text x="57.6" y="817.3" font-size="16.1" textLength="70.2" lengthAdjust="spacingAndGlyphs">交易记录:</text>
<text x="67.6" y="832.6" font-size="15.6" textLength="64.1" lengthAdjust="spacingAndGlyphs">Buy Date</text>
<text x="143.8" y="832.6" font-size="15.6" textLength="64.5" lengthAdjust="spacingAndGlyphs">Buy Price</text>
<text x="220.2" y="832.6" font-size="15.6" textLength="64.6" lengthAdjust="spacingAndGlyphs">Sell Date</text>
<text x="296.5" y="832.6" font-size="15.6" textLength="66.6" lengthAdjust="spacingAndGlyphs">Sell Price</text>
<text x="374.7" y="832.6" font-size="15.6" textLength="93.5" lengthAdjust="spacingAndGlyphs">Holding Days</text>
<text x="479.3" y="832.6" font-size="15.6" textLength="53.4" lengthAdjust="spacingAndGlyphs">Profit %</text>
<text x="57.6" y="850.4" font-size="15.6" textLength="88.3" lengthAdjust="spacingAndGlyphs">2020-12-14</text>
<text x="178.6" y="850.4" font-size="15.6" textLength="42.1" lengthAdjust="spacingAndGlyphs">71.74</text>
<text x="227.7" y="850.4" font-size="15.6" textLength="88.6" lengthAdjust="spacingAndGlyphs">2025-10-29</text>
<text x="352.0" y="850.4" font-size="15.6" textLength="43.9" lengthAdjust="spacingAndGlyphs">65.46</text>
<text x="448.0" y="850.4" font-size="15.6" textLength="38.2" lengthAdjust="spacingAndGlyphs">1779</text>
<text x="511.5" y="850.4" font-size="15.6" textLength="39.3" lengthAdjust="spacingAndGlyphs">-8.75</text>
</svg>
</body></html>
